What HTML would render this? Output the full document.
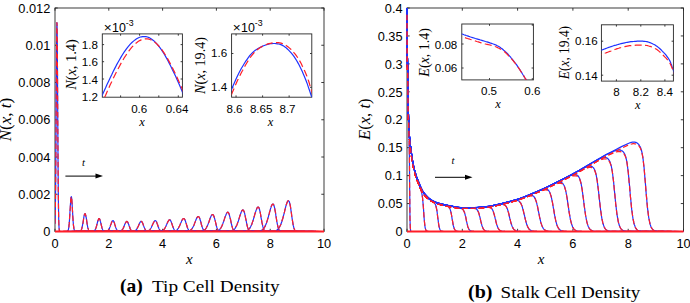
<!DOCTYPE html>
<html><head><meta charset="utf-8"><title>Tip and Stalk Cell Density</title>
<style>html,body{margin:0;padding:0;background:#fff;width:690px;height:303px;overflow:hidden}svg{display:block}</style>
</head><body>
<svg width="690" height="303" viewBox="0 0 690 303">
<defs><clipPath id="cN"><rect x="55.00" y="6.00" width="269.00" height="225.50"/></clipPath></defs>
<rect x="55.00" y="8.00" width="269.00" height="223.50" fill="none" stroke="#262626" stroke-width="0.9"/>
<path d="M55.00 231.50v-2.70M55.00 8.00v2.70M108.80 231.50v-2.70M108.80 8.00v2.70M162.60 231.50v-2.70M162.60 8.00v2.70M216.40 231.50v-2.70M216.40 8.00v2.70M270.20 231.50v-2.70M270.20 8.00v2.70M324.00 231.50v-2.70M324.00 8.00v2.70M55.00 231.50h2.70M324.00 231.50h-2.70M55.00 194.25h2.70M324.00 194.25h-2.70M55.00 157.00h2.70M324.00 157.00h-2.70M55.00 119.75h2.70M324.00 119.75h-2.70M55.00 82.50h2.70M324.00 82.50h-2.70M55.00 45.25h2.70M324.00 45.25h-2.70M55.00 8.00h2.70M324.00 8.00h-2.70" stroke="#262626" stroke-width="0.9" fill="none"/>
<path d="M55.0 223.8L55.0 223.8L55.1 220.8L55.2 216.8L55.3 211.7L55.4 205.3L55.5 197.5L55.6 188.1L55.7 177.0L55.8 164.3L55.9 150.1L56.0 134.6L56.1 118.2L56.2 101.4L56.3 84.7L56.4 68.7L56.5 54.3L56.6 41.9L56.7 32.2L56.8 25.7L56.9 22.7L57.0 23.4L57.1 27.8L57.2 35.5L57.3 46.3L57.4 59.6L57.5 74.7L57.6 91.0L57.7 107.8L57.8 124.5L57.9 140.6L58.0 155.7L58.1 169.3L58.2 181.4L58.3 191.8L58.4 200.7L58.5 208.0L58.6 213.8L58.7 218.5L58.8 222.1L58.9 224.8L59.0 226.8L59.1 228.3L59.2 229.3L59.3 230.1L59.4 230.6L59.5 230.9L59.6 231.1L59.7 231.3L59.8 231.4L59.9 231.4L60.0 231.5L60.1 231.5L60.2 231.5L60.3 231.5L60.4 231.5L60.5 231.5L60.6 231.5L60.7 231.5L60.8 231.5L60.9 231.5L324.0 231.5" stroke="#1e32ff" stroke-width="1.2" fill="none" stroke-linejoin="round" clip-path="url(#cN)"/>
<path d="M55.0 223.8L55.0 223.8L55.1 220.8L55.2 216.8L55.3 211.7L55.4 205.3L55.5 197.5L55.6 188.1L55.7 177.0L55.8 164.3L55.9 150.1L56.0 134.6L56.1 118.2L56.2 101.4L56.3 84.7L56.4 68.7L56.5 54.3L56.6 41.9L56.7 32.2L56.8 25.7L56.9 22.7L57.0 23.4L57.1 27.8L57.2 35.5L57.3 46.3L57.4 59.6L57.5 74.7L57.6 91.0L57.7 107.8L57.8 124.5L57.9 140.6L58.0 155.7L58.1 169.3L58.2 181.4L58.3 191.8L58.4 200.7L58.5 208.0L58.6 213.8L58.7 218.5L58.8 222.1L58.9 224.8L59.0 226.8L59.1 228.3L59.2 229.3L59.3 230.1L59.4 230.6L59.5 230.9L59.6 231.1L59.7 231.3L59.8 231.4L59.9 231.4L60.0 231.5L60.1 231.5L60.2 231.5L60.3 231.5L60.4 231.5L60.5 231.5L60.6 231.5L60.7 231.5L60.8 231.5L60.9 231.5L324.0 231.5" stroke="#ff1e28" stroke-width="1.2" fill="none" stroke-linejoin="round" stroke-dasharray="5.5,2.8" clip-path="url(#cN)"/>
<path d="M55.0 231.5L67.2 231.4L67.4 231.3L67.5 231.2L67.7 231.1L67.8 231.0L68.0 230.7L68.1 230.4L68.3 230.0L68.4 229.4L68.6 228.7L68.7 227.9L68.9 226.8L69.0 225.4L69.2 223.9L69.3 222.1L69.5 220.0L69.6 217.7L69.8 215.3L69.9 212.7L70.1 210.0L70.3 207.3L70.4 204.8L70.6 202.4L70.7 200.4L70.9 198.7L71.0 197.5L71.2 196.8L71.3 196.7L71.5 197.1L71.6 198.1L71.8 199.6L71.9 201.4L72.1 203.7L72.2 206.1L72.4 208.8L72.5 211.4L72.7 214.1L72.8 216.6L73.0 219.0L73.1 221.2L73.3 223.1L73.4 224.8L73.6 226.2L73.8 227.4L73.9 228.4L74.1 229.1L74.2 229.8L74.4 230.2L74.5 230.6L74.7 230.9L324.0 231.5" stroke="#1e32ff" stroke-width="1.2" fill="none" stroke-linejoin="round" clip-path="url(#cN)"/>
<path d="M55.0 231.5L67.2 231.4L67.4 231.3L67.5 231.2L67.7 231.1L67.8 231.0L68.0 230.7L68.1 230.4L68.3 230.0L68.4 229.4L68.6 228.7L68.7 227.9L68.9 226.8L69.0 225.4L69.2 223.9L69.3 222.1L69.5 220.0L69.6 217.7L69.8 215.3L69.9 212.7L70.1 210.0L70.3 207.3L70.4 204.8L70.6 202.4L70.7 200.4L70.9 198.7L71.0 197.5L71.2 196.8L71.3 196.7L71.5 197.1L71.6 198.1L71.8 199.6L71.9 201.4L72.1 203.7L72.2 206.1L72.4 208.8L72.5 211.4L72.7 214.1L72.8 216.6L73.0 219.0L73.1 221.2L73.3 223.1L73.4 224.8L73.6 226.2L73.8 227.4L73.9 228.4L74.1 229.1L74.2 229.8L74.4 230.2L74.5 230.6L74.7 230.9L324.0 231.5" stroke="#ff1e28" stroke-width="1.2" fill="none" stroke-linejoin="round" stroke-dasharray="5.5,2.8" clip-path="url(#cN)"/>
<path d="M55.0 231.5L79.3 231.4L79.5 231.4L79.7 231.4L79.9 231.3L80.1 231.2L80.3 231.1L80.5 230.9L80.7 230.7L81.0 230.5L81.2 230.1L81.4 229.7L81.6 229.1L81.8 228.5L82.0 227.7L82.2 226.8L82.4 225.8L82.6 224.7L82.9 223.5L83.1 222.2L83.3 220.8L83.5 219.5L83.7 218.2L83.9 216.9L84.1 215.8L84.3 214.9L84.6 214.2L84.8 213.8L85.0 213.6L85.2 213.7L85.4 214.1L85.6 214.8L85.8 215.7L86.0 216.8L86.3 218.0L86.5 219.4L86.7 220.8L86.9 222.2L87.1 223.6L87.3 224.9L87.5 226.0L87.7 227.1L87.9 228.0L88.2 228.7L88.4 229.4L88.6 229.9L88.8 230.3L89.0 230.6L89.2 230.9L89.4 231.1L89.6 231.2L324.0 231.5" stroke="#1e32ff" stroke-width="1.2" fill="none" stroke-linejoin="round" clip-path="url(#cN)"/>
<path d="M55.0 231.5L79.3 231.4L79.5 231.4L79.7 231.4L79.9 231.3L80.1 231.2L80.3 231.1L80.5 230.9L80.7 230.7L81.0 230.5L81.2 230.1L81.4 229.7L81.6 229.1L81.8 228.5L82.0 227.7L82.2 226.8L82.4 225.8L82.6 224.7L82.9 223.5L83.1 222.2L83.3 220.8L83.5 219.5L83.7 218.2L83.9 216.9L84.1 215.8L84.3 214.9L84.6 214.2L84.8 213.8L85.0 213.6L85.2 213.7L85.4 214.1L85.6 214.8L85.8 215.7L86.0 216.8L86.3 218.0L86.5 219.4L86.7 220.8L86.9 222.2L87.1 223.6L87.3 224.9L87.5 226.0L87.7 227.1L87.9 228.0L88.2 228.7L88.4 229.4L88.6 229.9L88.8 230.3L89.0 230.6L89.2 230.9L89.4 231.1L89.6 231.2L324.0 231.5" stroke="#ff1e28" stroke-width="1.2" fill="none" stroke-linejoin="round" stroke-dasharray="5.5,2.8" clip-path="url(#cN)"/>
<path d="M55.0 231.5L92.4 231.5L92.7 231.4L92.9 231.4L93.2 231.4L93.4 231.3L93.6 231.2L93.9 231.1L94.1 230.9L94.4 230.7L94.6 230.5L94.9 230.2L95.1 229.8L95.3 229.4L95.6 228.9L95.8 228.2L96.1 227.5L96.3 226.8L96.6 225.9L96.8 225.0L97.0 224.1L97.3 223.1L97.5 222.2L97.8 221.3L98.0 220.5L98.3 219.8L98.5 219.2L98.7 218.8L99.0 218.6L99.2 218.6L99.5 218.8L99.7 219.2L100.0 219.8L100.2 220.6L100.4 221.5L100.7 222.5L100.9 223.5L101.2 224.6L101.4 225.6L101.7 226.5L101.9 227.4L102.1 228.2L102.4 228.9L102.6 229.5L102.9 230.0L103.1 230.3L103.4 230.7L103.6 230.9L103.8 231.1L104.1 231.2L104.3 231.3L324.0 231.5" stroke="#1e32ff" stroke-width="1.2" fill="none" stroke-linejoin="round" clip-path="url(#cN)"/>
<path d="M55.0 231.5L92.4 231.5L92.7 231.4L92.9 231.4L93.2 231.4L93.4 231.3L93.6 231.2L93.9 231.1L94.1 230.9L94.4 230.7L94.6 230.5L94.9 230.2L95.1 229.8L95.3 229.4L95.6 228.9L95.8 228.2L96.1 227.5L96.3 226.8L96.6 225.9L96.8 225.0L97.0 224.1L97.3 223.1L97.5 222.2L97.8 221.3L98.0 220.5L98.3 219.8L98.5 219.2L98.7 218.8L99.0 218.6L99.2 218.6L99.5 218.8L99.7 219.2L100.0 219.8L100.2 220.6L100.4 221.5L100.7 222.5L100.9 223.5L101.2 224.6L101.4 225.6L101.7 226.5L101.9 227.4L102.1 228.2L102.4 228.9L102.6 229.5L102.9 230.0L103.1 230.3L103.4 230.7L103.6 230.9L103.8 231.1L104.1 231.2L104.3 231.3L324.0 231.5" stroke="#ff1e28" stroke-width="1.2" fill="none" stroke-linejoin="round" stroke-dasharray="5.5,2.8" clip-path="url(#cN)"/>
<path d="M55.0 231.5L105.4 231.5L105.7 231.4L106.0 231.4L106.2 231.4L106.5 231.3L106.8 231.2L107.0 231.1L107.3 231.0L107.6 230.9L107.9 230.7L108.1 230.4L108.4 230.1L108.7 229.8L108.9 229.3L109.2 228.8L109.5 228.3L109.7 227.6L110.0 227.0L110.3 226.2L110.5 225.4L110.8 224.6L111.1 223.9L111.3 223.1L111.6 222.4L111.9 221.8L112.1 221.3L112.4 220.9L112.7 220.7L113.0 220.6L113.2 220.7L113.5 221.0L113.8 221.5L114.0 222.1L114.3 222.8L114.6 223.6L114.8 224.5L115.1 225.4L115.4 226.3L115.6 227.2L115.9 227.9L116.2 228.6L116.4 229.2L116.7 229.8L117.0 230.2L117.2 230.5L117.5 230.8L117.8 231.0L118.0 231.2L118.3 231.3L118.6 231.3L324.0 231.5" stroke="#1e32ff" stroke-width="1.2" fill="none" stroke-linejoin="round" clip-path="url(#cN)"/>
<path d="M55.0 231.5L105.4 231.5L105.7 231.4L106.0 231.4L106.2 231.4L106.5 231.3L106.8 231.2L107.0 231.1L107.3 231.0L107.6 230.9L107.9 230.7L108.1 230.4L108.4 230.1L108.7 229.8L108.9 229.3L109.2 228.8L109.5 228.3L109.7 227.6L110.0 227.0L110.3 226.2L110.5 225.4L110.8 224.6L111.1 223.9L111.3 223.1L111.6 222.4L111.9 221.8L112.1 221.3L112.4 220.9L112.7 220.7L113.0 220.6L113.2 220.7L113.5 221.0L113.8 221.5L114.0 222.1L114.3 222.8L114.6 223.6L114.8 224.5L115.1 225.4L115.4 226.3L115.6 227.2L115.9 227.9L116.2 228.6L116.4 229.2L116.7 229.8L117.0 230.2L117.2 230.5L117.5 230.8L117.8 231.0L118.0 231.2L118.3 231.3L118.6 231.3L324.0 231.5" stroke="#ff1e28" stroke-width="1.2" fill="none" stroke-linejoin="round" stroke-dasharray="5.5,2.8" clip-path="url(#cN)"/>
<path d="M55.0 231.5L118.6 231.5L118.9 231.4L119.2 231.4L119.5 231.4L119.8 231.3L120.1 231.3L120.4 231.2L120.7 231.1L120.9 230.9L121.2 230.7L121.5 230.5L121.8 230.2L122.1 229.9L122.4 229.5L122.7 229.1L123.0 228.6L123.3 228.0L123.6 227.4L123.9 226.8L124.1 226.1L124.4 225.3L124.7 224.6L125.0 223.9L125.3 223.3L125.6 222.7L125.9 222.2L126.2 221.8L126.5 221.5L126.8 221.4L127.0 221.5L127.3 221.7L127.6 222.0L127.9 222.6L128.2 223.2L128.5 224.0L128.8 224.8L129.1 225.7L129.4 226.5L129.7 227.3L129.9 228.1L130.2 228.8L130.5 229.4L130.8 229.9L131.1 230.3L131.4 230.6L131.7 230.9L132.0 231.0L132.3 231.2L132.6 231.3L132.9 231.4L324.0 231.5" stroke="#1e32ff" stroke-width="1.2" fill="none" stroke-linejoin="round" clip-path="url(#cN)"/>
<path d="M55.0 231.5L118.6 231.5L118.9 231.4L119.2 231.4L119.5 231.4L119.8 231.3L120.1 231.3L120.4 231.2L120.7 231.1L120.9 230.9L121.2 230.7L121.5 230.5L121.8 230.2L122.1 229.9L122.4 229.5L122.7 229.1L123.0 228.6L123.3 228.0L123.6 227.4L123.9 226.8L124.1 226.1L124.4 225.3L124.7 224.6L125.0 223.9L125.3 223.3L125.6 222.7L125.9 222.2L126.2 221.8L126.5 221.5L126.8 221.4L127.0 221.5L127.3 221.7L127.6 222.0L127.9 222.6L128.2 223.2L128.5 224.0L128.8 224.8L129.1 225.7L129.4 226.5L129.7 227.3L129.9 228.1L130.2 228.8L130.5 229.4L130.8 229.9L131.1 230.3L131.4 230.6L131.7 230.9L132.0 231.0L132.3 231.2L132.6 231.3L132.9 231.4L324.0 231.5" stroke="#ff1e28" stroke-width="1.2" fill="none" stroke-linejoin="round" stroke-dasharray="5.5,2.8" clip-path="url(#cN)"/>
<path d="M55.0 231.5L132.4 231.5L132.7 231.4L133.0 231.4L133.3 231.4L133.6 231.3L133.9 231.2L134.2 231.2L134.5 231.1L134.8 230.9L135.2 230.7L135.5 230.5L135.8 230.3L136.1 230.0L136.4 229.6L136.7 229.2L137.0 228.7L137.3 228.1L137.6 227.5L137.9 226.9L138.3 226.2L138.6 225.5L138.9 224.8L139.2 224.1L139.5 223.5L139.8 222.8L140.1 222.3L140.4 221.9L140.7 221.6L141.1 221.4L141.4 221.4L141.7 221.6L142.0 221.9L142.3 222.4L142.6 223.0L142.9 223.8L143.2 224.6L143.5 225.5L143.8 226.3L144.2 227.2L144.5 228.0L144.8 228.7L145.1 229.3L145.4 229.8L145.7 230.3L146.0 230.6L146.3 230.9L146.6 231.1L146.9 231.2L147.3 231.3L147.6 231.4L324.0 231.5" stroke="#1e32ff" stroke-width="1.2" fill="none" stroke-linejoin="round" clip-path="url(#cN)"/>
<path d="M55.0 231.5L132.4 231.5L132.7 231.4L133.0 231.4L133.3 231.4L133.6 231.3L133.9 231.2L134.2 231.2L134.5 231.1L134.8 230.9L135.2 230.7L135.5 230.5L135.8 230.3L136.1 230.0L136.4 229.6L136.7 229.2L137.0 228.7L137.3 228.1L137.6 227.5L137.9 226.9L138.3 226.2L138.6 225.5L138.9 224.8L139.2 224.1L139.5 223.5L139.8 222.8L140.1 222.3L140.4 221.9L140.7 221.6L141.1 221.4L141.4 221.4L141.7 221.6L142.0 221.9L142.3 222.4L142.6 223.0L142.9 223.8L143.2 224.6L143.5 225.5L143.8 226.3L144.2 227.2L144.5 228.0L144.8 228.7L145.1 229.3L145.4 229.8L145.7 230.3L146.0 230.6L146.3 230.9L146.6 231.1L146.9 231.2L147.3 231.3L147.6 231.4L324.0 231.5" stroke="#ff1e28" stroke-width="1.2" fill="none" stroke-linejoin="round" stroke-dasharray="5.5,2.8" clip-path="url(#cN)"/>
<path d="M55.0 231.5L145.7 231.4L146.1 231.4L146.4 231.4L146.7 231.3L147.0 231.3L147.4 231.2L147.7 231.1L148.0 231.0L148.4 230.9L148.7 230.7L149.0 230.5L149.3 230.2L149.7 229.9L150.0 229.5L150.3 229.0L150.7 228.5L151.0 228.0L151.3 227.4L151.6 226.7L152.0 226.0L152.3 225.2L152.6 224.5L153.0 223.7L153.3 223.0L153.6 222.4L154.0 221.8L154.3 221.3L154.6 220.9L154.9 220.7L155.3 220.6L155.6 220.7L155.9 221.0L156.3 221.5L156.6 222.1L156.9 222.9L157.2 223.8L157.6 224.8L157.9 225.7L158.2 226.7L158.6 227.6L158.9 228.4L159.2 229.1L159.5 229.7L159.9 230.1L160.2 230.5L160.5 230.8L160.9 231.0L161.2 231.2L161.5 231.3L161.8 231.4L324.0 231.5" stroke="#1e32ff" stroke-width="1.2" fill="none" stroke-linejoin="round" clip-path="url(#cN)"/>
<path d="M55.0 231.5L145.7 231.4L146.1 231.4L146.4 231.4L146.7 231.3L147.0 231.3L147.4 231.2L147.7 231.1L148.0 231.0L148.4 230.9L148.7 230.7L149.0 230.5L149.3 230.2L149.7 229.9L150.0 229.5L150.3 229.0L150.7 228.5L151.0 228.0L151.3 227.4L151.6 226.7L152.0 226.0L152.3 225.2L152.6 224.5L153.0 223.7L153.3 223.0L153.6 222.4L154.0 221.8L154.3 221.3L154.6 220.9L154.9 220.7L155.3 220.6L155.6 220.7L155.9 221.0L156.3 221.5L156.6 222.1L156.9 222.9L157.2 223.8L157.6 224.8L157.9 225.7L158.2 226.7L158.6 227.6L158.9 228.4L159.2 229.1L159.5 229.7L159.9 230.1L160.2 230.5L160.5 230.8L160.9 231.0L161.2 231.2L161.5 231.3L161.8 231.4L324.0 231.5" stroke="#ff1e28" stroke-width="1.2" fill="none" stroke-linejoin="round" stroke-dasharray="5.5,2.8" clip-path="url(#cN)"/>
<path d="M55.0 231.5L159.5 231.4L159.9 231.4L160.2 231.4L160.6 231.3L160.9 231.3L161.2 231.2L161.6 231.1L161.9 231.0L162.3 230.8L162.6 230.6L163.0 230.4L163.3 230.1L163.7 229.8L164.0 229.4L164.4 228.9L164.7 228.4L165.1 227.8L165.4 227.2L165.8 226.5L166.1 225.7L166.4 225.0L166.8 224.2L167.1 223.4L167.5 222.6L167.8 221.9L168.2 221.2L168.5 220.7L168.9 220.2L169.2 219.9L169.6 219.8L169.9 219.9L170.3 220.1L170.6 220.6L170.9 221.2L171.3 222.0L171.6 223.0L172.0 224.0L172.3 225.1L172.7 226.2L173.0 227.1L173.4 228.0L173.7 228.8L174.1 229.5L174.4 230.0L174.8 230.5L175.1 230.8L175.5 231.0L175.8 231.2L176.1 231.3L176.5 231.4L324.0 231.5" stroke="#1e32ff" stroke-width="1.2" fill="none" stroke-linejoin="round" clip-path="url(#cN)"/>
<path d="M55.0 231.5L159.5 231.4L159.9 231.4L160.2 231.4L160.6 231.3L160.9 231.3L161.2 231.2L161.6 231.1L161.9 231.0L162.3 230.8L162.6 230.6L163.0 230.4L163.3 230.1L163.7 229.8L164.0 229.4L164.4 228.9L164.7 228.4L165.1 227.8L165.4 227.2L165.8 226.5L166.1 225.7L166.4 225.0L166.8 224.2L167.1 223.4L167.5 222.6L167.8 221.9L168.2 221.2L168.5 220.7L168.9 220.2L169.2 219.9L169.6 219.8L169.9 219.9L170.3 220.1L170.6 220.6L170.9 221.2L171.3 222.0L171.6 223.0L172.0 224.0L172.3 225.1L172.7 226.2L173.0 227.1L173.4 228.0L173.7 228.8L174.1 229.5L174.4 230.0L174.8 230.5L175.1 230.8L175.5 231.0L175.8 231.2L176.1 231.3L176.5 231.4L324.0 231.5" stroke="#ff1e28" stroke-width="1.2" fill="none" stroke-linejoin="round" stroke-dasharray="5.5,2.8" clip-path="url(#cN)"/>
<path d="M55.0 231.5L172.9 231.4L173.3 231.4L173.7 231.4L174.0 231.3L174.4 231.2L174.7 231.2L175.1 231.0L175.5 230.9L175.8 230.7L176.2 230.5L176.6 230.3L176.9 230.0L177.3 229.6L177.6 229.2L178.0 228.7L178.4 228.1L178.7 227.5L179.1 226.8L179.5 226.1L179.8 225.3L180.2 224.4L180.5 223.6L180.9 222.7L181.3 221.9L181.6 221.0L182.0 220.3L182.4 219.6L182.7 219.1L183.1 218.7L183.5 218.5L183.8 218.5L184.2 218.7L184.5 219.2L184.9 219.8L185.3 220.7L185.6 221.8L186.0 222.9L186.4 224.1L186.7 225.3L187.1 226.5L187.4 227.5L187.8 228.5L188.2 229.2L188.5 229.9L188.9 230.3L189.3 230.7L189.6 231.0L190.0 231.2L190.3 231.3L190.7 231.4L324.0 231.5" stroke="#1e32ff" stroke-width="1.2" fill="none" stroke-linejoin="round" clip-path="url(#cN)"/>
<path d="M55.0 231.5L172.9 231.4L173.3 231.4L173.7 231.4L174.0 231.3L174.4 231.2L174.7 231.2L175.1 231.0L175.5 230.9L175.8 230.7L176.2 230.5L176.6 230.3L176.9 230.0L177.3 229.6L177.6 229.2L178.0 228.7L178.4 228.1L178.7 227.5L179.1 226.8L179.5 226.1L179.8 225.3L180.2 224.4L180.5 223.6L180.9 222.7L181.3 221.9L181.6 221.0L182.0 220.3L182.4 219.6L182.7 219.1L183.1 218.7L183.5 218.5L183.8 218.5L184.2 218.7L184.5 219.2L184.9 219.8L185.3 220.7L185.6 221.8L186.0 222.9L186.4 224.1L186.7 225.3L187.1 226.5L187.4 227.5L187.8 228.5L188.2 229.2L188.5 229.9L188.9 230.3L189.3 230.7L189.6 231.0L190.0 231.2L190.3 231.3L190.7 231.4L324.0 231.5" stroke="#ff1e28" stroke-width="1.2" fill="none" stroke-linejoin="round" stroke-dasharray="5.5,2.8" clip-path="url(#cN)"/>
<path d="M55.0 231.5L187.0 231.4L187.3 231.4L187.7 231.3L188.1 231.3L188.5 231.2L188.8 231.1L189.2 231.0L189.6 230.8L190.0 230.6L190.4 230.4L190.7 230.1L191.1 229.7L191.5 229.3L191.9 228.9L192.3 228.3L192.6 227.7L193.0 227.0L193.4 226.2L193.8 225.4L194.2 224.5L194.5 223.6L194.9 222.6L195.3 221.6L195.7 220.6L196.0 219.7L196.4 218.8L196.8 218.0L197.2 217.4L197.6 216.9L197.9 216.6L198.3 216.5L198.7 216.7L199.1 217.1L199.5 217.8L199.8 218.8L200.2 220.0L200.6 221.3L201.0 222.7L201.3 224.2L201.7 225.5L202.1 226.8L202.5 227.9L202.9 228.8L203.2 229.6L203.6 230.2L204.0 230.6L204.4 230.9L204.8 231.1L205.1 231.3L205.5 231.4L324.0 231.5" stroke="#1e32ff" stroke-width="1.2" fill="none" stroke-linejoin="round" clip-path="url(#cN)"/>
<path d="M55.0 231.5L187.0 231.4L187.3 231.4L187.7 231.3L188.1 231.3L188.5 231.2L188.8 231.1L189.2 231.0L189.6 230.8L190.0 230.6L190.4 230.4L190.7 230.1L191.1 229.7L191.5 229.3L191.9 228.9L192.3 228.3L192.6 227.7L193.0 227.0L193.4 226.2L193.8 225.4L194.2 224.5L194.5 223.6L194.9 222.6L195.3 221.6L195.7 220.6L196.0 219.7L196.4 218.8L196.8 218.0L197.2 217.4L197.6 216.9L197.9 216.6L198.3 216.5L198.7 216.7L199.1 217.1L199.5 217.8L199.8 218.8L200.2 220.0L200.6 221.3L201.0 222.7L201.3 224.2L201.7 225.5L202.1 226.8L202.5 227.9L202.9 228.8L203.2 229.6L203.6 230.2L204.0 230.6L204.4 230.9L204.8 231.1L205.1 231.3L205.5 231.4L324.0 231.5" stroke="#ff1e28" stroke-width="1.2" fill="none" stroke-linejoin="round" stroke-dasharray="5.5,2.8" clip-path="url(#cN)"/>
<path d="M55.0 231.5L200.7 231.4L201.1 231.3L201.5 231.3L201.9 231.2L202.3 231.1L202.7 231.0L203.1 230.9L203.5 230.7L203.8 230.5L204.2 230.2L204.6 229.9L205.0 229.5L205.4 229.1L205.8 228.6L206.2 228.0L206.6 227.3L207.0 226.5L207.4 225.7L207.8 224.8L208.2 223.8L208.6 222.7L209.0 221.7L209.4 220.5L209.8 219.4L210.1 218.4L210.5 217.4L210.9 216.5L211.3 215.7L211.7 215.1L212.1 214.7L212.5 214.5L212.9 214.6L213.3 215.0L213.7 215.7L214.1 216.8L214.5 218.1L214.9 219.6L215.3 221.2L215.7 222.9L216.1 224.5L216.4 226.0L216.8 227.3L217.2 228.4L217.6 229.3L218.0 230.0L218.4 230.5L218.8 230.8L219.2 231.1L219.6 231.3L220.0 231.4L324.0 231.5" stroke="#1e32ff" stroke-width="1.2" fill="none" stroke-linejoin="round" clip-path="url(#cN)"/>
<path d="M55.0 231.5L200.7 231.4L201.1 231.3L201.5 231.3L201.9 231.2L202.3 231.1L202.7 231.0L203.1 230.9L203.5 230.7L203.8 230.5L204.2 230.2L204.6 229.9L205.0 229.5L205.4 229.1L205.8 228.6L206.2 228.0L206.6 227.3L207.0 226.5L207.4 225.7L207.8 224.8L208.2 223.8L208.6 222.7L209.0 221.7L209.4 220.5L209.8 219.4L210.1 218.4L210.5 217.4L210.9 216.5L211.3 215.7L211.7 215.1L212.1 214.7L212.5 214.5L212.9 214.6L213.3 215.0L213.7 215.7L214.1 216.8L214.5 218.1L214.9 219.6L215.3 221.2L215.7 222.9L216.1 224.5L216.4 226.0L216.8 227.3L217.2 228.4L217.6 229.3L218.0 230.0L218.4 230.5L218.8 230.8L219.2 231.1L219.6 231.3L220.0 231.4L324.0 231.5" stroke="#ff1e28" stroke-width="1.2" fill="none" stroke-linejoin="round" stroke-dasharray="5.5,2.8" clip-path="url(#cN)"/>
<path d="M55.0 231.5L215.4 231.4L215.8 231.3L216.2 231.2L216.6 231.2L217.0 231.1L217.4 230.9L217.8 230.8L218.2 230.6L218.6 230.3L219.0 230.0L219.4 229.7L219.8 229.3L220.2 228.8L220.7 228.2L221.1 227.6L221.5 226.8L221.9 226.0L222.3 225.0L222.7 224.0L223.1 222.9L223.5 221.8L223.9 220.6L224.3 219.4L224.7 218.1L225.1 216.9L225.6 215.8L226.0 214.7L226.4 213.8L226.8 213.0L227.2 212.5L227.6 212.2L228.0 212.3L228.4 212.6L228.8 213.3L229.2 214.4L229.6 215.9L230.0 217.6L230.5 219.4L230.9 221.4L231.3 223.3L231.7 225.0L232.1 226.6L232.5 227.9L232.9 228.9L233.3 229.8L233.7 230.4L234.1 230.8L234.5 231.1L234.9 231.2L235.4 231.4L324.0 231.5" stroke="#1e32ff" stroke-width="1.2" fill="none" stroke-linejoin="round" clip-path="url(#cN)"/>
<path d="M55.0 231.5L215.4 231.4L215.8 231.3L216.2 231.2L216.6 231.2L217.0 231.1L217.4 230.9L217.8 230.8L218.2 230.6L218.6 230.3L219.0 230.0L219.4 229.7L219.8 229.3L220.2 228.8L220.7 228.2L221.1 227.6L221.5 226.8L221.9 226.0L222.3 225.0L222.7 224.0L223.1 222.9L223.5 221.8L223.9 220.6L224.3 219.4L224.7 218.1L225.1 216.9L225.6 215.8L226.0 214.7L226.4 213.8L226.8 213.0L227.2 212.5L227.6 212.2L228.0 212.3L228.4 212.6L228.8 213.3L229.2 214.4L229.6 215.9L230.0 217.6L230.5 219.4L230.9 221.4L231.3 223.3L231.7 225.0L232.1 226.6L232.5 227.9L232.9 228.9L233.3 229.8L233.7 230.4L234.1 230.8L234.5 231.1L234.9 231.2L235.4 231.4L324.0 231.5" stroke="#ff1e28" stroke-width="1.2" fill="none" stroke-linejoin="round" stroke-dasharray="5.5,2.8" clip-path="url(#cN)"/>
<path d="M55.0 231.5L229.9 231.3L230.3 231.3L230.8 231.2L231.2 231.1L231.6 231.0L232.0 230.9L232.4 230.7L232.9 230.5L233.3 230.2L233.7 229.9L234.1 229.5L234.6 229.0L235.0 228.5L235.4 227.9L235.8 227.1L236.2 226.3L236.7 225.4L237.1 224.4L237.5 223.3L237.9 222.1L238.4 220.9L238.8 219.6L239.2 218.2L239.6 216.9L240.0 215.5L240.5 214.2L240.9 213.0L241.3 211.9L241.7 211.0L242.2 210.4L242.6 210.0L243.0 209.9L243.4 210.2L243.8 210.9L244.3 212.0L244.7 213.6L245.1 215.5L245.5 217.6L246.0 219.8L246.4 222.0L246.8 224.0L247.2 225.8L247.6 227.4L248.1 228.6L248.5 229.5L248.9 230.2L249.3 230.7L249.8 231.0L250.2 231.2L250.6 231.4L324.0 231.5" stroke="#1e32ff" stroke-width="1.2" fill="none" stroke-linejoin="round" clip-path="url(#cN)"/>
<path d="M55.0 231.5L229.9 231.3L230.3 231.3L230.8 231.2L231.2 231.1L231.6 231.0L232.0 230.9L232.4 230.7L232.9 230.5L233.3 230.2L233.7 229.9L234.1 229.5L234.6 229.0L235.0 228.5L235.4 227.9L235.8 227.1L236.2 226.3L236.7 225.4L237.1 224.4L237.5 223.3L237.9 222.1L238.4 220.9L238.8 219.6L239.2 218.2L239.6 216.9L240.0 215.5L240.5 214.2L240.9 213.0L241.3 211.9L241.7 211.0L242.2 210.4L242.6 210.0L243.0 209.9L243.4 210.2L243.8 210.9L244.3 212.0L244.7 213.6L245.1 215.5L245.5 217.6L246.0 219.8L246.4 222.0L246.8 224.0L247.2 225.8L247.6 227.4L248.1 228.6L248.5 229.5L248.9 230.2L249.3 230.7L249.8 231.0L250.2 231.2L250.6 231.4L324.0 231.5" stroke="#ff1e28" stroke-width="1.2" fill="none" stroke-linejoin="round" stroke-dasharray="5.5,2.8" clip-path="url(#cN)"/>
<path d="M55.0 231.5L244.6 231.3L245.0 231.2L245.5 231.1L245.9 231.0L246.3 230.9L246.8 230.7L247.2 230.5L247.6 230.3L248.1 230.0L248.5 229.6L248.9 229.2L249.4 228.7L249.8 228.1L250.3 227.4L250.7 226.6L251.1 225.7L251.6 224.7L252.0 223.6L252.4 222.4L252.9 221.1L253.3 219.7L253.7 218.3L254.2 216.8L254.6 215.2L255.0 213.7L255.5 212.3L255.9 210.9L256.4 209.6L256.8 208.5L257.2 207.7L257.7 207.2L258.1 207.0L258.5 207.2L259.0 207.9L259.4 209.0L259.8 210.7L260.3 212.8L260.7 215.2L261.1 217.8L261.6 220.3L262.0 222.7L262.5 224.9L262.9 226.7L263.3 228.2L263.8 229.3L264.2 230.1L264.6 230.6L265.1 231.0L265.5 231.2L265.9 231.3L324.0 231.5" stroke="#1e32ff" stroke-width="1.2" fill="none" stroke-linejoin="round" clip-path="url(#cN)"/>
<path d="M55.0 231.5L244.6 231.3L245.0 231.2L245.5 231.1L245.9 231.0L246.3 230.9L246.8 230.7L247.2 230.5L247.6 230.3L248.1 230.0L248.5 229.6L248.9 229.2L249.4 228.7L249.8 228.1L250.3 227.4L250.7 226.6L251.1 225.7L251.6 224.7L252.0 223.6L252.4 222.4L252.9 221.1L253.3 219.7L253.7 218.3L254.2 216.8L254.6 215.2L255.0 213.7L255.5 212.3L255.9 210.9L256.4 209.6L256.8 208.5L257.2 207.7L257.7 207.2L258.1 207.0L258.5 207.2L259.0 207.9L259.4 209.0L259.8 210.7L260.3 212.8L260.7 215.2L261.1 217.8L261.6 220.3L262.0 222.7L262.5 224.9L262.9 226.7L263.3 228.2L263.8 229.3L264.2 230.1L264.6 230.6L265.1 231.0L265.5 231.2L265.9 231.3L324.0 231.5" stroke="#ff1e28" stroke-width="1.2" fill="none" stroke-linejoin="round" stroke-dasharray="5.5,2.8" clip-path="url(#cN)"/>
<path d="M55.0 231.5L258.9 231.2L259.3 231.2L259.8 231.1L260.2 231.0L260.7 230.8L261.1 230.6L261.6 230.4L262.0 230.1L262.5 229.8L262.9 229.4L263.4 228.9L263.8 228.4L264.3 227.7L264.7 227.0L265.2 226.1L265.6 225.1L266.1 224.1L266.5 222.9L266.9 221.6L267.4 220.1L267.8 218.6L268.3 217.0L268.7 215.4L269.2 213.7L269.6 212.0L270.1 210.4L270.5 208.8L271.0 207.4L271.4 206.1L271.9 205.1L272.3 204.4L272.8 204.1L273.2 204.2L273.7 204.8L274.1 206.0L274.6 207.8L275.0 210.1L275.5 212.7L275.9 215.7L276.4 218.6L276.8 221.4L277.3 223.9L277.7 226.0L278.2 227.7L278.6 229.0L279.1 229.9L279.5 230.5L280.0 231.0L280.4 231.2L280.9 231.3L324.0 231.5" stroke="#1e32ff" stroke-width="1.2" fill="none" stroke-linejoin="round" clip-path="url(#cN)"/>
<path d="M55.0 231.5L258.9 231.2L259.3 231.2L259.8 231.1L260.2 231.0L260.7 230.8L261.1 230.6L261.6 230.4L262.0 230.1L262.5 229.8L262.9 229.4L263.4 228.9L263.8 228.4L264.3 227.7L264.7 227.0L265.2 226.1L265.6 225.1L266.1 224.1L266.5 222.9L266.9 221.6L267.4 220.1L267.8 218.6L268.3 217.0L268.7 215.4L269.2 213.7L269.6 212.0L270.1 210.4L270.5 208.8L271.0 207.4L271.4 206.1L271.9 205.1L272.3 204.4L272.8 204.1L273.2 204.2L273.7 204.8L274.1 206.0L274.6 207.8L275.0 210.1L275.5 212.7L275.9 215.7L276.4 218.6L276.8 221.4L277.3 223.9L277.7 226.0L278.2 227.7L278.6 229.0L279.1 229.9L279.5 230.5L280.0 231.0L280.4 231.2L280.9 231.3L324.0 231.5" stroke="#ff1e28" stroke-width="1.2" fill="none" stroke-linejoin="round" stroke-dasharray="5.5,2.8" clip-path="url(#cN)"/>
<path d="M55.0 231.5L273.8 231.2L274.3 231.1L274.8 231.0L275.2 230.9L275.7 230.7L276.1 230.5L276.6 230.2L277.1 229.9L277.5 229.5L278.0 229.1L278.4 228.6L278.9 228.0L279.4 227.3L279.8 226.4L280.3 225.5L280.8 224.5L281.2 223.3L281.7 222.0L282.1 220.5L282.6 219.0L283.1 217.3L283.5 215.6L284.0 213.8L284.5 211.9L284.9 210.0L285.4 208.2L285.8 206.4L286.3 204.8L286.8 203.3L287.2 202.1L287.7 201.2L288.2 200.7L288.6 200.8L289.1 201.3L289.5 202.5L290.0 204.3L290.5 206.8L290.9 209.8L291.4 213.1L291.8 216.5L292.3 219.7L292.8 222.7L293.2 225.2L293.7 227.2L294.2 228.7L294.6 229.7L295.1 230.5L295.5 230.9L296.0 231.2L296.5 231.3L324.0 231.5" stroke="#1e32ff" stroke-width="1.2" fill="none" stroke-linejoin="round" clip-path="url(#cN)"/>
<path d="M55.0 231.5L273.8 231.2L274.3 231.1L274.8 231.0L275.2 230.9L275.7 230.7L276.1 230.5L276.6 230.2L277.1 229.9L277.5 229.5L278.0 229.1L278.4 228.6L278.9 228.0L279.4 227.3L279.8 226.4L280.3 225.5L280.8 224.5L281.2 223.3L281.7 222.0L282.1 220.5L282.6 219.0L283.1 217.3L283.5 215.6L284.0 213.8L284.5 211.9L284.9 210.0L285.4 208.2L285.8 206.4L286.3 204.8L286.8 203.3L287.2 202.1L287.7 201.2L288.2 200.7L288.6 200.8L289.1 201.3L289.5 202.5L290.0 204.3L290.5 206.8L290.9 209.8L291.4 213.1L291.8 216.5L292.3 219.7L292.8 222.7L293.2 225.2L293.7 227.2L294.2 228.7L294.6 229.7L295.1 230.5L295.5 230.9L296.0 231.2L296.5 231.3L324.0 231.5" stroke="#ff1e28" stroke-width="1.2" fill="none" stroke-linejoin="round" stroke-dasharray="5.5,2.8" clip-path="url(#cN)"/>
<path d="M55.00 231.50H324.00" stroke="#ff1e28" stroke-width="1.8"/>
<text x="55.00" y="248.10" text-anchor="middle" style="font-family:&quot;Liberation Sans&quot;, sans-serif;font-size:12.80px;" fill="#000" >0</text>
<text x="108.80" y="248.10" text-anchor="middle" style="font-family:&quot;Liberation Sans&quot;, sans-serif;font-size:12.80px;" fill="#000" >2</text>
<text x="162.60" y="248.10" text-anchor="middle" style="font-family:&quot;Liberation Sans&quot;, sans-serif;font-size:12.80px;" fill="#000" >4</text>
<text x="216.40" y="248.10" text-anchor="middle" style="font-family:&quot;Liberation Sans&quot;, sans-serif;font-size:12.80px;" fill="#000" >6</text>
<text x="270.20" y="248.10" text-anchor="middle" style="font-family:&quot;Liberation Sans&quot;, sans-serif;font-size:12.80px;" fill="#000" >8</text>
<text x="324.00" y="248.10" text-anchor="middle" style="font-family:&quot;Liberation Sans&quot;, sans-serif;font-size:12.80px;" fill="#000" >10</text>
<text x="50.30" y="236.20" text-anchor="end" style="font-family:&quot;Liberation Sans&quot;, sans-serif;font-size:12.80px;" fill="#000" >0</text>
<text x="50.30" y="198.95" text-anchor="end" style="font-family:&quot;Liberation Sans&quot;, sans-serif;font-size:12.80px;" fill="#000" >0.002</text>
<text x="50.30" y="161.70" text-anchor="end" style="font-family:&quot;Liberation Sans&quot;, sans-serif;font-size:12.80px;" fill="#000" >0.004</text>
<text x="50.30" y="124.45" text-anchor="end" style="font-family:&quot;Liberation Sans&quot;, sans-serif;font-size:12.80px;" fill="#000" >0.006</text>
<text x="50.30" y="87.20" text-anchor="end" style="font-family:&quot;Liberation Sans&quot;, sans-serif;font-size:12.80px;" fill="#000" >0.008</text>
<text x="50.30" y="49.95" text-anchor="end" style="font-family:&quot;Liberation Sans&quot;, sans-serif;font-size:12.80px;" fill="#000" >0.01</text>
<text x="50.30" y="12.70" text-anchor="end" style="font-family:&quot;Liberation Sans&quot;, sans-serif;font-size:12.80px;" fill="#000" >0.012</text>
<path d="M65.40 176.10H98.00" stroke="#000" stroke-width="1"/>
<path d="M103.00 176.10L95.50 173.60L95.50 178.60Z" fill="#000"/>
<text x="83.50" y="166.00" text-anchor="middle" style="font-family:&quot;Liberation Serif&quot;, serif;font-size:10.80px;font-style:italic;" fill="#000" >t</text>
<text x="189.40" y="263.60" text-anchor="middle" style="font-family:&quot;Liberation Serif&quot;, serif;font-size:15.00px;font-style:italic;" fill="#000" >x</text>
<text transform="translate(11.40 119.50) rotate(-90)" text-anchor="middle" style="font-family:&quot;Liberation Serif&quot;, serif;font-size:16.50px" fill="#000" textLength="43.5" lengthAdjust="spacingAndGlyphs"><tspan font-style="italic">N</tspan>(<tspan font-style="italic">x</tspan>, <tspan font-style="italic">t</tspan>)</text>
<text x="120" y="292.2" style="font-family:&quot;Liberation Serif&quot;, serif;font-size:19.5px;font-weight:bold" fill="#000" textLength="22.8" lengthAdjust="spacingAndGlyphs">(a)</text>
<text x="152" y="292.3" style="font-family:&quot;Liberation Serif&quot;, serif;font-size:16px" fill="#000" textLength="127.6" lengthAdjust="spacingAndGlyphs">Tip Cell Density</text>
<defs><clipPath id="cN1"><rect x="102.30" y="33.90" width="80.10" height="63.30"/></clipPath></defs>
<rect x="102.30" y="33.90" width="80.10" height="63.30" fill="#fff"/>
<rect x="102.30" y="33.90" width="80.10" height="63.30" fill="none" stroke="#262626" stroke-width="0.9"/>
<path d="M120.60 97.20v-1.80M120.60 33.90v1.80M139.60 97.20v-1.80M139.60 33.90v1.80M158.80 97.20v-1.80M158.80 33.90v1.80M178.30 97.20v-1.80M178.30 33.90v1.80M102.30 44.60h1.80M182.40 44.60h-1.80M102.30 61.70h1.80M182.40 61.70h-1.80M102.30 79.00h1.80M182.40 79.00h-1.80" stroke="#262626" stroke-width="0.9" fill="none"/>
<path d="M96.1 108.8L97.7 105.3L99.2 101.8L100.8 98.3L102.3 94.9L103.9 91.4L105.5 88.0L107.0 84.6L108.6 81.2L110.1 77.9L111.7 74.7L113.2 71.5L114.8 68.4L116.3 65.4L117.9 62.5L119.5 59.7L121.0 57.1L122.6 54.5L124.1 52.1L125.7 49.9L127.2 47.8L128.8 45.9L130.3 44.1L131.9 42.5L133.5 41.1L135.0 39.9L136.6 38.8L138.1 38.0L139.7 37.3L141.2 36.8L142.8 36.6L144.3 36.5L145.9 36.7L147.5 37.0L149.0 37.6L150.6 38.5L152.1 39.5L153.7 40.7L155.2 42.2L156.8 43.8L158.3 45.6L159.9 47.7L161.5 49.9L163.0 52.2L164.6 54.7L166.1 57.4L167.7 60.3L169.2 63.2L170.8 66.3L172.3 69.5L173.9 72.7L175.5 76.1L177.0 79.5L178.6 83.1L180.1 86.6L181.7 90.2L183.2 93.9L184.8 97.5L186.4 101.2L187.9 104.9" stroke="#1e32ff" stroke-width="1.2" fill="none" stroke-linejoin="round" clip-path="url(#cN1)"/>
<path d="M96.1 116.2L97.7 112.7L99.2 109.3L100.8 105.8L102.3 102.3L103.9 98.8L105.5 95.4L107.0 91.9L108.6 88.5L110.1 85.1L111.7 81.8L113.2 78.5L114.8 75.3L116.3 72.2L117.9 69.2L119.5 66.2L121.0 63.4L122.6 60.6L124.1 58.0L125.7 55.6L127.2 53.2L128.8 51.1L130.3 49.1L131.9 47.2L133.5 45.5L135.0 44.0L136.6 42.7L138.1 41.6L139.7 40.6L141.2 39.9L142.8 39.3L144.3 39.0L145.9 38.8L147.5 38.9L149.0 39.2L150.6 39.7L152.1 40.4L153.7 41.3L155.2 42.5L156.8 43.9L158.3 45.5L159.9 47.2L161.5 49.2L163.0 51.3L164.6 53.7L166.1 56.2L167.7 58.8L169.2 61.6L170.8 64.5L172.3 67.6L173.9 70.7L175.5 74.0L177.0 77.3L178.6 80.8L180.1 84.3L181.7 87.8L183.2 91.4L184.8 95.1L186.4 98.7L187.9 102.4" stroke="#ff1e28" stroke-width="1.2" fill="none" stroke-linejoin="round" stroke-dasharray="7,3.4" clip-path="url(#cN1)"/>
<text x="139.20" y="112.60" text-anchor="middle" style="font-family:&quot;Liberation Sans&quot;, sans-serif;font-size:11.60px;" fill="#000" >0.6</text>
<text x="177.10" y="112.60" text-anchor="middle" style="font-family:&quot;Liberation Sans&quot;, sans-serif;font-size:11.60px;" fill="#000" >0.64</text>
<text x="97.90" y="100.90" text-anchor="end" style="font-family:&quot;Liberation Sans&quot;, sans-serif;font-size:11.60px;" fill="#000" >1.2</text>
<text x="97.90" y="83.50" text-anchor="end" style="font-family:&quot;Liberation Sans&quot;, sans-serif;font-size:11.60px;" fill="#000" >1.4</text>
<text x="97.90" y="66.20" text-anchor="end" style="font-family:&quot;Liberation Sans&quot;, sans-serif;font-size:11.60px;" fill="#000" >1.6</text>
<text x="97.90" y="48.80" text-anchor="end" style="font-family:&quot;Liberation Sans&quot;, sans-serif;font-size:11.60px;" fill="#000" >1.8</text>
<text x="103.70" y="31.70" style="font-family:&quot;Liberation Sans&quot;, sans-serif;font-size:13.6px" fill="#000">&#215;</text>
<text x="112.00" y="31.60" style="font-family:&quot;Liberation Sans&quot;, sans-serif;font-size:12.4px" fill="#000">10</text>
<text x="125.80" y="25.60" style="font-family:&quot;Liberation Sans&quot;, sans-serif;font-size:8.8px" fill="#000">-3</text>
<text x="142.00" y="125.80" text-anchor="middle" style="font-family:&quot;Liberation Serif&quot;, serif;font-size:12.50px;font-style:italic;" fill="#000" >x</text>
<text transform="translate(75.60 64.60) rotate(-90)" text-anchor="middle" style="font-family:&quot;Liberation Serif&quot;, serif;font-size:14.50px" fill="#000" textLength="50.5" lengthAdjust="spacingAndGlyphs"><tspan font-style="italic">N</tspan>(<tspan font-style="italic">x</tspan>, 1.4)</text>
<defs><clipPath id="cN2"><rect x="231.60" y="33.90" width="80.20" height="63.30"/></clipPath></defs>
<rect x="231.60" y="33.90" width="80.20" height="63.30" fill="#fff"/>
<rect x="231.60" y="33.90" width="80.20" height="63.30" fill="none" stroke="#262626" stroke-width="0.9"/>
<path d="M236.06 97.20v-1.80M236.06 33.90v1.80M262.60 97.20v-1.80M262.60 33.90v1.80M289.14 97.20v-1.80M289.14 33.90v1.80M231.60 87.30h1.80M311.80 87.30h-1.80M231.60 53.50h1.80M311.80 53.50h-1.80" stroke="#262626" stroke-width="0.9" fill="none"/>
<path d="M227.5 99.5L227.8 98.8L228.2 97.8L228.6 96.7L229.1 95.5L229.6 94.0L230.3 92.5L230.9 90.9L231.7 89.1L232.5 87.2L233.4 85.0L234.4 82.7L235.5 80.3L236.6 77.8L237.7 75.4L238.9 73.0L240.1 70.7L241.3 68.5L242.7 66.2L244.0 64.0L245.4 61.7L246.9 59.6L248.3 57.6L249.7 55.7L251.1 54.1L252.5 52.7L253.9 51.4L255.3 50.3L256.6 49.4L258.0 48.5L259.4 47.8L260.8 47.1L262.2 46.4L263.6 45.8L265.0 45.2L266.4 44.7L267.8 44.3L269.1 44.0L270.5 43.7L271.9 43.6L273.3 43.5L274.7 43.5L276.1 43.6L277.4 43.8L278.8 44.0L280.2 44.4L281.5 44.9L282.9 45.6L284.3 46.4L285.7 47.4L287.1 48.7L288.6 50.1L290.0 51.6L291.4 53.2L292.8 54.9L294.1 56.7L295.4 58.6L296.6 60.5L297.8 62.6L299.0 64.8L300.1 67.0L301.2 69.3L302.3 71.6L303.3 74.0L304.3 76.3L305.3 78.7L306.3 81.3L307.3 83.9L308.2 86.6L309.1 89.2L309.9 91.6L310.6 93.8L311.3 95.7L311.9 97.3L312.3 98.8L312.7 100.0L313.1 101.1L313.4 102.0L313.6 102.8L313.8 103.4L314.0 104.0" stroke="#1e32ff" stroke-width="1.2" fill="none" stroke-linejoin="round" clip-path="url(#cN2)"/>
<path d="M227.5 104.5L227.8 103.7L228.2 102.8L228.6 101.7L229.1 100.4L229.6 99.0L230.3 97.5L230.9 95.8L231.7 94.0L232.5 92.0L233.4 89.9L234.4 87.6L235.5 85.1L236.6 82.6L237.7 80.1L238.9 77.6L240.1 75.2L241.3 72.8L242.7 70.3L244.0 67.7L245.4 65.2L246.9 62.7L248.3 60.4L249.7 58.2L251.1 56.3L252.5 54.6L253.8 53.0L255.2 51.7L256.5 50.4L257.9 49.3L259.3 48.2L260.7 47.3L262.2 46.4L263.8 45.6L265.4 44.9L267.1 44.2L268.9 43.7L270.6 43.3L272.3 42.9L273.9 42.7L275.5 42.6L277.0 42.6L278.4 42.7L279.8 42.9L281.1 43.2L282.5 43.6L283.8 44.2L285.1 44.8L286.5 45.7L287.9 46.7L289.3 47.9L290.8 49.2L292.2 50.7L293.6 52.3L295.0 53.9L296.3 55.7L297.6 57.5L298.8 59.4L300.1 61.6L301.3 63.8L302.4 66.2L303.6 68.5L304.6 70.8L305.6 73.1L306.5 75.2L307.3 77.2L308.0 79.3L308.7 81.3L309.3 83.2L309.8 85.1L310.3 86.8L310.8 88.5L311.3 90.0L311.8 91.4L312.2 92.7L312.6 93.8L313.0 94.9L313.3 95.9L313.6 96.7L313.8 97.4L314.0 98.0" stroke="#ff1e28" stroke-width="1.2" fill="none" stroke-linejoin="round" stroke-dasharray="7,3.4" clip-path="url(#cN2)"/>
<text x="234.50" y="112.60" text-anchor="middle" style="font-family:&quot;Liberation Sans&quot;, sans-serif;font-size:11.60px;" fill="#000" >8.6</text>
<text x="261.20" y="112.60" text-anchor="middle" style="font-family:&quot;Liberation Sans&quot;, sans-serif;font-size:11.60px;" fill="#000" >8.65</text>
<text x="287.50" y="112.60" text-anchor="middle" style="font-family:&quot;Liberation Sans&quot;, sans-serif;font-size:11.60px;" fill="#000" >8.7</text>
<text x="227.20" y="91.20" text-anchor="end" style="font-family:&quot;Liberation Sans&quot;, sans-serif;font-size:11.60px;" fill="#000" >1.4</text>
<text x="227.20" y="57.40" text-anchor="end" style="font-family:&quot;Liberation Sans&quot;, sans-serif;font-size:11.60px;" fill="#000" >1.6</text>
<text x="232.70" y="31.70" style="font-family:&quot;Liberation Sans&quot;, sans-serif;font-size:13.6px" fill="#000">&#215;</text>
<text x="241.00" y="31.60" style="font-family:&quot;Liberation Sans&quot;, sans-serif;font-size:12.4px" fill="#000">10</text>
<text x="254.80" y="25.60" style="font-family:&quot;Liberation Sans&quot;, sans-serif;font-size:8.8px" fill="#000">-3</text>
<text x="270.60" y="125.80" text-anchor="middle" style="font-family:&quot;Liberation Serif&quot;, serif;font-size:12.50px;font-style:italic;" fill="#000" >x</text>
<text transform="translate(205.20 65.50) rotate(-90)" text-anchor="middle" style="font-family:&quot;Liberation Serif&quot;, serif;font-size:14.50px" fill="#000" textLength="57.0" lengthAdjust="spacingAndGlyphs"><tspan font-style="italic">N</tspan>(<tspan font-style="italic">x</tspan>, 19.4)</text>
<defs><clipPath id="cE"><rect x="406.00" y="8.00" width="277.50" height="225.50"/></clipPath></defs>
<rect x="407.00" y="8.00" width="276.50" height="223.50" fill="none" stroke="#262626" stroke-width="0.9"/>
<path d="M407.00 231.50v-2.70M407.00 8.00v2.70M462.30 231.50v-2.70M462.30 8.00v2.70M517.60 231.50v-2.70M517.60 8.00v2.70M572.90 231.50v-2.70M572.90 8.00v2.70M628.20 231.50v-2.70M628.20 8.00v2.70M683.50 231.50v-2.70M683.50 8.00v2.70M407.00 231.50h2.70M683.50 231.50h-2.70M407.00 203.56h2.70M683.50 203.56h-2.70M407.00 175.62h2.70M683.50 175.62h-2.70M407.00 147.69h2.70M683.50 147.69h-2.70M407.00 119.75h2.70M683.50 119.75h-2.70M407.00 91.81h2.70M683.50 91.81h-2.70M407.00 63.88h2.70M683.50 63.88h-2.70M407.00 35.94h2.70M683.50 35.94h-2.70M407.00 8.00h2.70M683.50 8.00h-2.70" stroke="#262626" stroke-width="0.9" fill="none"/>
<path d="M407.0 8.0L407.1 26.0L407.3 41.7L407.4 54.5L407.6 65.4L407.7 75.1L407.8 84.3L408.0 93.2L408.1 101.3L408.2 108.0L408.4 113.3L408.5 118.2L408.7 122.8L408.8 127.5L408.9 132.6L409.1 138.6L409.2 146.2L409.4 156.5L409.5 169.8L409.6 185.0L409.8 199.6L409.9 211.4L410.0 219.7L410.2 224.9L410.3 227.9L410.5 229.5L410.6 230.5L410.7 230.9L410.9 231.2L411.0 231.3L411.1 231.4L411.3 231.5L411.4 231.5L411.6 231.5L411.7 231.5L411.8 231.5L412.0 231.5L412.1 231.5L412.3 231.5L412.4 231.5L412.5 231.5L412.7 231.5L412.8 231.5L412.9 231.5L413.1 231.5L683.5 231.5" stroke="#1e32ff" stroke-width="1.2" fill="none" stroke-linejoin="round" clip-path="url(#cE)"/>
<path d="M407.0 8.0L407.1 26.0L407.3 41.7L407.4 54.5L407.6 65.4L407.7 75.1L407.8 84.3L408.0 93.2L408.1 101.3L408.2 108.0L408.4 113.3L408.5 118.2L408.7 122.8L408.8 127.5L408.9 132.6L409.1 138.6L409.2 146.2L409.4 156.5L409.5 169.8L409.6 185.0L409.8 199.6L409.9 211.4L410.0 219.7L410.2 224.9L410.3 227.9L410.5 229.5L410.6 230.5L410.7 230.9L410.9 231.2L411.0 231.3L411.1 231.4L411.3 231.5L411.4 231.5L411.6 231.5L411.7 231.5L411.8 231.5L412.0 231.5L412.1 231.5L412.3 231.5L412.4 231.5L412.5 231.5L412.7 231.5L412.8 231.5L412.9 231.5L413.1 231.5L683.5 231.5" stroke="#ff1e28" stroke-width="1.2" fill="none" stroke-linejoin="round" stroke-dasharray="5.5,2.8" clip-path="url(#cE)"/>
<path d="M407.0 8.0L407.3 48.4L407.7 75.1L408.0 97.3L408.4 112.9L408.7 123.3L409.1 130.9L409.4 136.0L409.8 140.0L410.1 143.3L410.5 146.1L410.8 148.7L411.1 151.2L411.5 153.8L411.8 156.2L412.2 158.6L412.5 160.8L412.9 162.8L413.2 164.6L413.6 166.3L413.9 167.8L414.3 169.2L414.6 170.6L414.9 171.8L415.3 173.1L415.8 174.9L416.2 176.1L416.6 177.3L417.0 178.4L417.3 179.5L417.7 180.6L418.1 181.6L418.4 182.6L418.8 183.6L419.2 184.6L419.5 185.6L419.9 186.7L420.3 187.8L420.6 188.9L421.0 190.1L421.4 191.5L421.7 193.0L422.1 194.9L422.5 197.4L422.8 200.7L423.2 204.9L423.6 210.1L423.9 215.4L424.3 220.2L424.7 224.0L425.0 226.8L425.4 228.6L425.8 229.8L426.1 230.5L426.5 230.9L426.9 231.1L427.3 231.3L427.6 231.4L428.0 231.4L428.4 231.5L428.7 231.5L429.1 231.5L429.5 231.5L429.8 231.5L430.2 231.5L430.6 231.5L430.9 231.5L431.3 231.5L431.7 231.5L432.0 231.5L432.4 231.5L432.8 231.5L433.1 231.5L433.5 231.5L433.9 231.5L434.2 231.5L434.6 231.5L435.0 231.5L435.3 231.5L435.7 231.5L436.1 231.5L436.4 231.5L436.8 231.5L437.2 231.5L437.6 231.5L683.5 231.5" stroke="#1e32ff" stroke-width="1.2" fill="none" stroke-linejoin="round" clip-path="url(#cE)"/>
<path d="M407.0 14.7L407.3 53.9L407.7 79.7L408.0 101.3L408.4 116.4L408.7 126.6L409.1 133.9L409.4 138.8L409.8 142.7L410.1 145.9L410.5 148.6L410.8 151.1L411.1 153.6L411.5 156.1L411.8 158.5L412.2 160.7L412.5 162.8L412.9 164.8L413.2 166.6L413.6 168.2L413.9 169.6L414.3 171.0L414.6 172.3L414.9 173.5L415.3 174.7L415.8 176.5L416.2 177.6L416.6 178.7L417.0 179.7L417.3 180.7L417.7 181.7L418.1 182.6L418.4 183.5L418.8 184.4L419.2 185.3L419.5 186.2L419.9 187.2L420.3 188.2L420.6 189.3L421.0 190.4L421.4 191.7L421.7 193.2L422.1 195.1L422.5 197.5L422.8 200.7L423.2 205.0L423.6 210.1L423.9 215.4L424.3 220.2L424.7 224.0L425.0 226.8L425.4 228.6L425.8 229.8L426.1 230.5L426.5 230.9L426.9 231.1L427.3 231.3L427.6 231.4L428.0 231.4L428.4 231.5L428.7 231.5L429.1 231.5L429.5 231.5L429.8 231.5L430.2 231.5L430.6 231.5L430.9 231.5L431.3 231.5L431.7 231.5L432.0 231.5L432.4 231.5L432.8 231.5L433.1 231.5L433.5 231.5L433.9 231.5L434.2 231.5L434.6 231.5L435.0 231.5L435.3 231.5L435.7 231.5L436.1 231.5L436.4 231.5L436.8 231.5L437.2 231.5L437.6 231.5L683.5 231.5" stroke="#ff1e28" stroke-width="1.2" fill="none" stroke-linejoin="round" stroke-dasharray="5.5,2.8" clip-path="url(#cE)"/>
<path d="M407.0 8.0L407.3 48.4L407.7 75.1L408.0 97.3L408.4 112.9L408.7 123.3L409.1 130.9L409.4 136.0L409.8 140.0L410.1 143.3L410.5 146.1L410.8 148.7L411.1 151.2L411.5 153.8L411.8 156.2L412.2 158.6L412.5 160.8L412.9 162.8L413.2 164.6L413.6 166.2L413.9 167.8L414.3 169.2L414.6 170.6L414.9 171.8L415.3 173.0L415.8 174.9L416.0 175.5L416.2 176.1L416.4 176.7L416.6 177.2L416.8 177.8L416.9 178.3L417.1 178.9L417.3 179.4L417.5 179.9L417.7 180.4L417.9 180.9L418.0 181.4L418.2 181.9L418.4 182.4L418.6 182.9L418.8 183.3L419.0 183.8L419.1 184.2L419.3 184.7L419.5 185.2L419.7 185.6L419.9 186.1L420.1 186.5L420.2 186.9L420.4 187.3L420.6 187.8L420.8 188.2L421.0 188.6L421.2 188.9L421.7 190.0L422.1 190.7L422.6 191.4L423.0 192.1L423.4 192.7L423.9 193.3L424.3 193.9L424.7 194.5L425.2 195.0L425.6 195.5L426.0 196.0L426.5 196.5L426.9 196.9L427.3 197.3L427.8 197.7L428.2 198.0L428.6 198.4L429.1 198.7L429.5 199.0L429.9 199.4L430.4 199.7L430.8 200.0L431.2 200.3L431.7 200.6L432.1 200.8L432.5 201.2L433.0 201.5L433.4 201.8L433.8 202.2L434.3 202.7L434.7 203.2L435.1 204.0L435.6 204.9L436.0 206.2L436.4 208.0L436.9 210.4L437.3 213.5L437.7 217.1L438.2 220.6L438.6 223.8L439.0 226.3L439.5 228.1L439.9 229.4L440.3 230.2L440.7 230.7L441.2 231.0L441.6 231.2L442.0 231.3L442.5 231.4L442.9 231.4L443.3 231.5L443.8 231.5L444.2 231.5L444.6 231.5L445.1 231.5L445.5 231.5L445.9 231.5L446.4 231.5L446.8 231.5L447.2 231.5L447.7 231.5L448.1 231.5L448.5 231.5L449.0 231.5L449.4 231.5L449.8 231.5L450.3 231.5L450.7 231.5L451.1 231.5L451.6 231.5L683.5 231.5" stroke="#1e32ff" stroke-width="1.2" fill="none" stroke-linejoin="round" clip-path="url(#cE)"/>
<path d="M407.0 14.7L407.3 53.9L407.7 79.7L408.0 101.3L408.4 116.4L408.7 126.6L409.1 133.9L409.4 138.8L409.8 142.7L410.1 145.9L410.5 148.6L410.8 151.1L411.1 153.6L411.5 156.1L411.8 158.5L412.2 160.7L412.5 162.9L412.9 164.8L413.2 166.6L413.6 168.2L413.9 169.7L414.3 171.1L414.6 172.4L414.9 173.6L415.3 174.8L415.8 176.6L416.0 177.2L416.2 177.7L416.4 178.3L416.6 178.8L416.8 179.4L416.9 179.9L417.1 180.4L417.3 180.9L417.5 181.5L417.7 181.9L417.9 182.4L418.0 182.9L418.2 183.4L418.4 183.8L418.6 184.3L418.8 184.7L419.0 185.2L419.1 185.6L419.3 186.1L419.5 186.5L419.7 187.0L419.9 187.4L420.1 187.8L420.2 188.2L420.4 188.6L420.6 189.0L420.8 189.4L421.0 189.8L421.2 190.2L421.7 191.2L422.1 191.9L422.6 192.6L423.0 193.2L423.4 193.8L423.9 194.4L424.3 195.0L424.7 195.6L425.2 196.1L425.6 196.6L426.0 197.0L426.5 197.5L426.9 197.9L427.3 198.3L427.8 198.6L428.2 199.0L428.6 199.3L429.1 199.6L429.5 199.9L429.9 200.2L430.4 200.5L430.8 200.7L431.2 201.0L431.7 201.2L432.1 201.5L432.5 201.7L433.0 202.0L433.4 202.2L433.8 202.6L434.3 203.0L434.7 203.5L435.1 204.1L435.6 205.0L436.0 206.3L436.4 208.1L436.9 210.5L437.3 213.6L437.7 217.1L438.2 220.7L438.6 223.8L439.0 226.3L439.5 228.1L439.9 229.4L440.3 230.2L440.7 230.7L441.2 231.0L441.6 231.2L442.0 231.3L442.5 231.4L442.9 231.4L443.3 231.5L443.8 231.5L444.2 231.5L444.6 231.5L445.1 231.5L445.5 231.5L445.9 231.5L446.4 231.5L446.8 231.5L447.2 231.5L447.7 231.5L448.1 231.5L448.5 231.5L449.0 231.5L449.4 231.5L449.8 231.5L450.3 231.5L450.7 231.5L451.1 231.5L451.6 231.5L683.5 231.5" stroke="#ff1e28" stroke-width="1.2" fill="none" stroke-linejoin="round" stroke-dasharray="5.5,2.8" clip-path="url(#cE)"/>
<path d="M407.0 8.0L407.3 48.4L407.7 75.1L408.0 97.3L408.4 112.9L408.7 123.3L409.1 130.9L409.4 136.0L409.8 140.0L410.1 143.3L410.5 146.1L410.8 148.7L411.1 151.2L411.5 153.8L411.8 156.2L412.2 158.6L412.5 160.8L412.9 162.8L413.2 164.6L413.6 166.2L413.9 167.8L414.3 169.2L414.6 170.6L414.9 171.8L415.3 173.0L415.8 174.9L416.5 177.1L417.2 179.1L417.9 181.0L418.6 182.8L419.2 184.5L419.9 186.2L420.6 187.8L421.3 189.2L422.0 190.4L422.6 191.5L423.3 192.5L424.0 193.5L424.7 194.4L425.4 195.2L426.0 196.0L426.7 196.7L427.4 197.4L428.1 197.9L428.8 198.5L429.4 199.0L430.1 199.4L430.8 199.9L431.5 200.3L432.2 200.7L432.8 201.1L433.5 201.4L434.2 201.8L434.9 202.0L435.6 202.3L436.1 202.5L436.5 202.7L437.0 202.8L437.4 203.0L437.8 203.1L438.3 203.2L438.7 203.4L439.1 203.5L439.6 203.6L440.0 203.7L440.4 203.8L440.9 204.0L441.3 204.1L441.7 204.2L442.2 204.3L442.6 204.4L443.0 204.5L443.5 204.6L443.9 204.7L444.3 204.8L444.8 205.0L445.2 205.1L445.6 205.2L446.1 205.4L446.5 205.5L446.9 205.7L447.4 205.9L447.8 206.2L448.2 206.5L448.7 206.9L449.1 207.4L449.5 208.1L450.0 208.9L450.4 210.1L450.8 211.7L451.3 213.7L451.7 216.1L452.1 218.8L452.6 221.4L453.0 223.8L453.4 225.9L453.9 227.5L454.3 228.7L454.7 229.6L455.2 230.2L455.6 230.7L456.0 230.9L456.4 231.1L456.9 231.3L457.3 231.3L457.7 231.4L458.2 231.4L458.6 231.5L459.0 231.5L459.5 231.5L459.9 231.5L460.3 231.5L460.8 231.5L461.2 231.5L461.6 231.5L462.1 231.5L462.5 231.5L462.9 231.5L463.4 231.5L463.8 231.5L464.2 231.5L464.7 231.5L465.1 231.5L465.5 231.5L466.0 231.5L683.5 231.5" stroke="#1e32ff" stroke-width="1.2" fill="none" stroke-linejoin="round" clip-path="url(#cE)"/>
<path d="M407.0 14.7L407.3 53.9L407.7 79.7L408.0 101.3L408.4 116.4L408.7 126.6L409.1 133.9L409.4 138.8L409.8 142.7L410.1 145.9L410.5 148.6L410.8 151.1L411.1 153.6L411.5 156.1L411.8 158.5L412.2 160.7L412.5 162.9L412.9 164.8L413.2 166.6L413.6 168.2L413.9 169.7L414.3 171.1L414.6 172.4L414.9 173.6L415.3 174.8L415.8 176.6L416.5 178.7L417.2 180.7L417.9 182.5L418.6 184.2L419.2 185.9L419.9 187.5L420.6 189.0L421.3 190.4L422.0 191.6L422.6 192.7L423.3 193.7L424.0 194.6L424.7 195.5L425.4 196.3L426.0 197.0L426.7 197.7L427.4 198.3L428.1 198.9L428.8 199.4L429.4 199.9L430.1 200.4L430.8 200.8L431.5 201.2L432.2 201.6L432.8 202.0L433.5 202.3L434.2 202.6L434.9 202.9L435.6 203.2L436.1 203.4L436.5 203.5L437.0 203.6L437.4 203.8L437.8 203.9L438.3 204.0L438.7 204.2L439.1 204.3L439.6 204.4L440.0 204.5L440.4 204.6L440.9 204.7L441.3 204.8L441.7 204.9L442.2 205.0L442.6 205.1L443.0 205.2L443.5 205.3L443.9 205.4L444.3 205.5L444.8 205.6L445.2 205.7L445.6 205.8L446.1 205.9L446.5 206.0L446.9 206.2L447.4 206.3L447.8 206.5L448.2 206.8L448.7 207.1L449.1 207.6L449.5 208.2L450.0 209.1L450.4 210.2L450.8 211.8L451.3 213.8L451.7 216.1L452.1 218.8L452.6 221.4L453.0 223.8L453.4 225.9L453.9 227.5L454.3 228.7L454.7 229.6L455.2 230.2L455.6 230.7L456.0 230.9L456.4 231.1L456.9 231.3L457.3 231.3L457.7 231.4L458.2 231.4L458.6 231.5L459.0 231.5L459.5 231.5L459.9 231.5L460.3 231.5L460.8 231.5L461.2 231.5L461.6 231.5L462.1 231.5L462.5 231.5L462.9 231.5L463.4 231.5L463.8 231.5L464.2 231.5L464.7 231.5L465.1 231.5L465.5 231.5L466.0 231.5L683.5 231.5" stroke="#ff1e28" stroke-width="1.2" fill="none" stroke-linejoin="round" stroke-dasharray="5.5,2.8" clip-path="url(#cE)"/>
<path d="M407.0 8.0L407.3 48.4L407.7 75.1L408.0 97.3L408.4 112.9L408.7 123.3L409.1 130.9L409.4 136.0L409.8 140.0L410.1 143.3L410.5 146.1L410.8 148.7L411.1 151.2L411.5 153.8L411.8 156.2L412.2 158.6L412.5 160.8L412.9 162.8L413.2 164.6L413.6 166.2L413.9 167.8L414.3 169.2L414.6 170.6L414.9 171.8L415.3 173.0L415.8 174.9L417.0 178.5L418.2 181.8L419.3 184.8L420.5 187.5L421.7 189.9L422.8 191.8L424.0 193.5L425.2 195.0L426.3 196.3L427.5 197.5L428.7 198.4L429.8 199.3L431.0 200.0L432.2 200.7L433.3 201.3L434.5 201.9L435.7 202.4L436.8 202.8L438.0 203.2L439.2 203.5L440.3 203.8L441.5 204.1L442.7 204.4L443.8 204.7L445.0 204.9L446.2 205.2L447.3 205.4L448.5 205.6L449.6 205.8L450.2 205.9L450.6 206.0L451.1 206.1L451.5 206.2L451.9 206.3L452.4 206.3L452.8 206.4L453.2 206.5L453.7 206.6L454.1 206.7L454.5 206.8L455.0 206.9L455.4 206.9L455.8 207.0L456.3 207.1L456.7 207.2L457.1 207.3L457.6 207.4L458.0 207.5L458.4 207.5L458.9 207.6L459.3 207.7L459.7 207.8L460.2 207.9L460.6 208.1L461.0 208.2L461.5 208.4L461.9 208.7L462.3 208.9L462.8 209.3L463.2 209.8L463.6 210.5L464.0 211.3L464.5 212.4L464.9 213.8L465.3 215.5L465.8 217.4L466.2 219.5L466.6 221.6L467.1 223.6L467.5 225.4L467.9 226.9L468.4 228.1L468.8 229.0L469.2 229.7L469.7 230.2L470.1 230.6L470.5 230.9L471.0 231.0L471.4 231.2L471.8 231.3L472.3 231.3L472.7 231.4L473.1 231.4L473.6 231.4L474.0 231.5L474.4 231.5L474.9 231.5L475.3 231.5L475.7 231.5L476.2 231.5L476.6 231.5L477.0 231.5L477.5 231.5L477.9 231.5L478.3 231.5L478.8 231.5L479.2 231.5L479.6 231.5L480.1 231.5L683.5 231.5" stroke="#1e32ff" stroke-width="1.2" fill="none" stroke-linejoin="round" clip-path="url(#cE)"/>
<path d="M407.0 14.7L407.3 53.9L407.7 79.7L408.0 101.3L408.4 116.4L408.7 126.6L409.1 133.9L409.4 138.8L409.8 142.7L410.1 145.9L410.5 148.6L410.8 151.1L411.1 153.6L411.5 156.1L411.8 158.5L412.2 160.7L412.5 162.9L412.9 164.8L413.2 166.6L413.6 168.2L413.9 169.7L414.3 171.1L414.6 172.4L414.9 173.6L415.3 174.8L415.8 176.6L417.0 180.1L418.2 183.3L419.3 186.1L420.5 188.8L421.7 191.1L422.8 193.0L424.0 194.6L425.2 196.1L426.3 197.4L427.5 198.4L428.7 199.4L429.8 200.2L431.0 200.9L432.2 201.6L433.3 202.2L434.5 202.7L435.7 203.2L436.8 203.6L438.0 204.0L439.2 204.3L440.3 204.6L441.5 204.9L442.7 205.2L443.8 205.4L445.0 205.7L446.2 205.9L447.3 206.1L448.5 206.4L449.6 206.6L450.2 206.7L450.6 206.7L451.1 206.8L451.5 206.9L451.9 207.0L452.4 207.0L452.8 207.1L453.2 207.2L453.7 207.3L454.1 207.4L454.5 207.5L455.0 207.5L455.4 207.6L455.8 207.7L456.3 207.8L456.7 207.8L457.1 207.9L457.6 208.0L458.0 208.1L458.4 208.1L458.9 208.2L459.3 208.3L459.7 208.4L460.2 208.4L460.6 208.5L461.0 208.6L461.5 208.8L461.9 209.0L462.3 209.2L462.8 209.5L463.2 210.0L463.6 210.6L464.0 211.4L464.5 212.5L464.9 213.8L465.3 215.5L465.8 217.4L466.2 219.5L466.6 221.6L467.1 223.6L467.5 225.4L467.9 226.9L468.4 228.1L468.8 229.0L469.2 229.7L469.7 230.2L470.1 230.6L470.5 230.9L471.0 231.0L471.4 231.2L471.8 231.3L472.3 231.3L472.7 231.4L473.1 231.4L473.6 231.4L474.0 231.5L474.4 231.5L474.9 231.5L475.3 231.5L475.7 231.5L476.2 231.5L476.6 231.5L477.0 231.5L477.5 231.5L477.9 231.5L478.3 231.5L478.8 231.5L479.2 231.5L479.6 231.5L480.1 231.5L683.5 231.5" stroke="#ff1e28" stroke-width="1.2" fill="none" stroke-linejoin="round" stroke-dasharray="5.5,2.8" clip-path="url(#cE)"/>
<path d="M407.0 8.0L407.3 48.4L407.7 75.0L408.0 97.3L408.4 112.9L408.7 123.3L409.1 130.9L409.4 136.0L409.8 140.0L410.1 143.3L410.5 146.1L410.8 148.7L411.1 151.2L411.5 153.8L411.8 156.2L412.2 158.6L412.5 160.8L412.9 162.8L413.2 164.6L413.6 166.2L413.9 167.8L414.3 169.2L414.6 170.6L414.9 171.8L415.3 173.0L415.8 174.9L417.5 180.0L419.2 184.3L420.8 188.2L422.5 191.2L424.1 193.7L425.8 195.7L427.4 197.4L429.1 198.7L430.7 199.9L432.4 200.9L434.1 201.7L435.7 202.4L437.4 203.0L439.0 203.5L440.7 203.9L442.3 204.3L444.0 204.7L445.6 205.1L447.3 205.4L448.9 205.7L450.6 206.0L452.3 206.3L453.9 206.6L455.6 207.0L457.2 207.2L458.9 207.5L460.5 207.7L462.2 207.8L463.8 207.8L464.4 207.8L464.8 207.8L465.3 207.8L465.7 207.8L466.1 207.8L466.6 207.8L467.0 207.8L467.4 207.8L467.9 207.8L468.3 207.8L468.7 207.8L469.2 207.8L469.6 207.8L470.0 207.8L470.5 207.8L470.9 207.8L471.3 207.8L471.8 207.8L472.2 207.8L472.6 207.8L473.1 207.9L473.5 207.9L473.9 208.0L474.4 208.1L474.8 208.2L475.2 208.3L475.6 208.5L476.1 208.8L476.5 209.1L476.9 209.5L477.4 210.1L477.8 210.8L478.2 211.6L478.7 212.7L479.1 214.1L479.5 215.7L480.0 217.4L480.4 219.3L480.8 221.2L481.3 223.0L481.7 224.6L482.1 226.0L482.6 227.3L483.0 228.2L483.4 229.0L483.9 229.6L484.3 230.1L484.7 230.5L485.2 230.7L485.6 230.9L486.0 231.1L486.5 231.2L486.9 231.3L487.3 231.3L487.8 231.4L488.2 231.4L488.6 231.4L489.1 231.5L489.5 231.5L489.9 231.5L490.4 231.5L490.8 231.5L491.2 231.5L491.7 231.5L492.1 231.5L492.5 231.5L493.0 231.5L493.4 231.5L493.8 231.5L494.3 231.5L683.5 231.5" stroke="#1e32ff" stroke-width="1.2" fill="none" stroke-linejoin="round" clip-path="url(#cE)"/>
<path d="M407.0 14.7L407.3 53.9L407.7 79.7L408.0 101.3L408.4 116.4L408.7 126.6L409.1 133.9L409.4 138.8L409.8 142.7L410.1 145.9L410.5 148.6L410.8 151.1L411.1 153.6L411.5 156.1L411.8 158.5L412.2 160.7L412.5 162.9L412.9 164.8L413.2 166.6L413.6 168.2L413.9 169.7L414.3 171.1L414.6 172.4L414.9 173.6L415.3 174.8L415.8 176.6L417.5 181.5L419.2 185.7L420.8 189.5L422.5 192.4L424.1 194.8L425.8 196.8L427.4 198.4L429.1 199.7L430.7 200.8L432.4 201.7L434.1 202.5L435.7 203.2L437.4 203.8L439.0 204.3L440.7 204.7L442.3 205.1L444.0 205.5L445.6 205.8L447.3 206.1L448.9 206.4L450.6 206.7L452.3 207.0L453.9 207.3L455.6 207.6L457.2 207.9L458.9 208.2L460.5 208.3L462.2 208.4L463.8 208.5L464.4 208.4L464.8 208.4L465.3 208.4L465.7 208.4L466.1 208.4L466.6 208.4L467.0 208.4L467.4 208.4L467.9 208.4L468.3 208.4L468.7 208.4L469.2 208.4L469.6 208.4L470.0 208.4L470.5 208.4L470.9 208.4L471.3 208.4L471.8 208.4L472.2 208.4L472.6 208.4L473.1 208.4L473.5 208.4L473.9 208.5L474.4 208.5L474.8 208.6L475.2 208.7L475.6 208.9L476.1 209.1L476.5 209.3L476.9 209.7L477.4 210.2L477.8 210.9L478.2 211.7L478.7 212.8L479.1 214.1L479.5 215.7L480.0 217.4L480.4 219.3L480.8 221.2L481.3 223.0L481.7 224.6L482.1 226.0L482.6 227.3L483.0 228.2L483.4 229.0L483.9 229.6L484.3 230.1L484.7 230.5L485.2 230.7L485.6 230.9L486.0 231.1L486.5 231.2L486.9 231.3L487.3 231.3L487.8 231.4L488.2 231.4L488.6 231.4L489.1 231.5L489.5 231.5L489.9 231.5L490.4 231.5L490.8 231.5L491.2 231.5L491.7 231.5L492.1 231.5L492.5 231.5L493.0 231.5L493.4 231.5L493.8 231.5L494.3 231.5L683.5 231.5" stroke="#ff1e28" stroke-width="1.2" fill="none" stroke-linejoin="round" stroke-dasharray="5.5,2.8" clip-path="url(#cE)"/>
<path d="M407.0 8.0L407.3 48.4L407.7 75.0L408.0 97.3L408.4 112.9L408.7 123.3L409.1 130.9L409.4 136.0L409.8 140.0L410.1 143.3L410.5 146.1L410.8 148.7L411.1 151.2L411.5 153.8L411.8 156.2L412.2 158.6L412.5 160.8L412.9 162.8L413.2 164.6L413.6 166.2L413.9 167.8L414.3 169.2L414.6 170.6L414.9 171.8L415.3 173.0L415.8 174.9L418.0 181.3L420.2 186.8L422.3 191.0L424.5 194.2L426.7 196.7L428.8 198.5L431.0 200.0L433.1 201.2L435.3 202.2L437.5 203.0L439.6 203.6L441.8 204.2L444.0 204.7L446.1 205.2L448.3 205.6L450.4 206.0L452.6 206.4L454.8 206.8L456.9 207.2L459.1 207.5L461.3 207.7L463.4 207.8L465.6 207.8L467.7 207.8L469.9 207.7L472.1 207.7L474.2 207.6L476.4 207.5L478.6 207.4L479.1 207.4L479.5 207.3L480.0 207.3L480.4 207.3L480.8 207.2L481.3 207.2L481.7 207.2L482.1 207.1L482.6 207.1L483.0 207.1L483.4 207.0L483.9 207.0L484.3 207.0L484.7 206.9L485.2 206.9L485.6 206.9L486.0 206.9L486.5 206.9L486.9 206.9L487.3 206.9L487.8 206.9L488.2 206.9L488.6 206.9L489.1 207.0L489.5 207.1L489.9 207.3L490.4 207.4L490.8 207.7L491.2 208.1L491.7 208.5L492.1 209.1L492.5 209.8L493.0 210.8L493.4 211.9L493.8 213.2L494.3 214.8L494.7 216.4L495.1 218.2L495.6 220.0L496.0 221.8L496.4 223.4L496.8 224.9L497.3 226.1L497.7 227.2L498.1 228.1L498.6 228.9L499.0 229.5L499.4 229.9L499.9 230.3L500.3 230.6L500.7 230.8L501.2 231.0L501.6 231.1L502.0 231.2L502.5 231.3L502.9 231.3L503.3 231.4L503.8 231.4L504.2 231.4L504.6 231.4L505.1 231.5L505.5 231.5L505.9 231.5L506.4 231.5L506.8 231.5L507.2 231.5L507.7 231.5L508.1 231.5L508.5 231.5L509.0 231.5L683.5 231.5" stroke="#1e32ff" stroke-width="1.2" fill="none" stroke-linejoin="round" clip-path="url(#cE)"/>
<path d="M407.0 14.7L407.3 53.9L407.7 79.7L408.0 101.3L408.4 116.4L408.7 126.6L409.1 133.9L409.4 138.8L409.8 142.7L410.1 145.9L410.5 148.6L410.8 151.1L411.1 153.6L411.5 156.1L411.8 158.5L412.2 160.7L412.5 162.9L412.9 164.8L413.2 166.6L413.6 168.2L413.9 169.7L414.3 171.1L414.6 172.4L414.9 173.6L415.3 174.8L415.8 176.6L418.0 182.8L420.2 188.1L422.3 192.2L424.5 195.3L426.7 197.7L428.8 199.5L431.0 200.9L433.1 202.1L435.3 203.1L437.5 203.8L439.6 204.4L441.8 205.0L444.0 205.5L446.1 205.9L448.3 206.3L450.4 206.7L452.6 207.1L454.8 207.5L456.9 207.9L459.1 208.2L461.3 208.4L463.4 208.5L465.6 208.4L467.7 208.4L469.9 208.4L472.1 208.3L474.2 208.2L476.4 208.2L478.6 208.0L479.1 208.0L479.5 208.0L480.0 207.9L480.4 207.9L480.8 207.9L481.3 207.8L481.7 207.8L482.1 207.8L482.6 207.7L483.0 207.7L483.4 207.7L483.9 207.6L484.3 207.6L484.7 207.6L485.2 207.5L485.6 207.5L486.0 207.5L486.5 207.5L486.9 207.5L487.3 207.5L487.8 207.4L488.2 207.4L488.6 207.5L489.1 207.5L489.5 207.6L489.9 207.7L490.4 207.8L490.8 208.0L491.2 208.3L491.7 208.7L492.1 209.3L492.5 210.0L493.0 210.9L493.4 212.0L493.8 213.3L494.3 214.8L494.7 216.5L495.1 218.2L495.6 220.0L496.0 221.8L496.4 223.4L496.8 224.9L497.3 226.1L497.7 227.2L498.1 228.1L498.6 228.9L499.0 229.5L499.4 229.9L499.9 230.3L500.3 230.6L500.7 230.8L501.2 231.0L501.6 231.1L502.0 231.2L502.5 231.3L502.9 231.3L503.3 231.4L503.8 231.4L504.2 231.4L504.6 231.4L505.1 231.5L505.5 231.5L505.9 231.5L506.4 231.5L506.8 231.5L507.2 231.5L507.7 231.5L508.1 231.5L508.5 231.5L509.0 231.5L683.5 231.5" stroke="#ff1e28" stroke-width="1.2" fill="none" stroke-linejoin="round" stroke-dasharray="5.5,2.8" clip-path="url(#cE)"/>
<path d="M407.0 8.0L407.3 48.4L407.7 75.0L408.0 97.3L408.4 112.9L408.7 123.3L409.1 130.9L409.4 136.0L409.8 140.0L410.1 143.3L410.5 146.1L410.8 148.7L411.1 151.2L411.5 153.8L411.8 156.2L412.2 158.6L412.5 160.8L412.9 162.8L413.2 164.6L413.6 166.2L413.9 167.8L414.3 169.2L414.6 170.6L414.9 171.8L415.3 173.0L415.8 174.9L418.5 182.6L421.2 188.9L423.8 193.2L426.5 196.5L429.1 198.7L431.8 200.5L434.4 201.9L437.1 202.9L439.7 203.7L442.4 204.3L445.1 204.9L447.7 205.5L450.4 206.0L453.0 206.5L455.7 207.0L458.3 207.4L461.0 207.7L463.6 207.8L466.3 207.8L469.0 207.7L471.6 207.7L474.3 207.6L476.9 207.5L479.6 207.3L482.2 207.1L484.9 206.9L487.5 206.6L490.2 206.1L492.9 205.6L493.4 205.5L493.8 205.4L494.3 205.3L494.7 205.2L495.1 205.2L495.6 205.1L496.0 205.0L496.4 204.9L496.9 204.8L497.3 204.7L497.7 204.6L498.2 204.6L498.6 204.5L499.0 204.4L499.5 204.4L499.9 204.3L500.3 204.2L500.8 204.2L501.2 204.2L501.6 204.1L502.1 204.1L502.5 204.1L502.9 204.2L503.4 204.3L503.8 204.4L504.2 204.6L504.7 204.8L505.1 205.2L505.5 205.6L506.0 206.1L506.4 206.8L506.8 207.7L507.3 208.7L507.7 209.9L508.1 211.4L508.6 212.9L509.0 214.7L509.4 216.5L509.8 218.3L510.3 220.1L510.7 221.8L511.1 223.3L511.6 224.7L512.0 225.9L512.4 227.0L512.9 227.9L513.3 228.6L513.7 229.2L514.2 229.7L514.6 230.0L515.0 230.4L515.5 230.6L515.9 230.8L516.3 230.9L516.8 231.1L517.2 231.2L517.6 231.2L518.1 231.3L518.5 231.3L518.9 231.4L519.4 231.4L519.8 231.4L520.2 231.4L520.7 231.5L521.1 231.5L521.5 231.5L522.0 231.5L522.4 231.5L522.8 231.5L523.3 231.5L683.5 231.5" stroke="#1e32ff" stroke-width="1.2" fill="none" stroke-linejoin="round" clip-path="url(#cE)"/>
<path d="M407.0 14.7L407.3 53.9L407.7 79.7L408.0 101.3L408.4 116.4L408.7 126.6L409.1 133.9L409.4 138.8L409.8 142.7L410.1 145.9L410.5 148.6L410.8 151.1L411.1 153.6L411.5 156.1L411.8 158.5L412.2 160.7L412.5 162.9L412.9 164.8L413.2 166.6L413.6 168.2L413.9 169.7L414.3 171.1L414.6 172.4L414.9 173.6L415.3 174.8L415.8 176.6L418.5 184.1L421.2 190.2L423.8 194.4L426.5 197.5L429.1 199.7L431.8 201.4L434.4 202.7L437.1 203.7L439.7 204.4L442.4 205.1L445.1 205.7L447.7 206.2L450.4 206.7L453.0 207.2L455.7 207.7L458.3 208.1L461.0 208.4L463.6 208.5L466.3 208.4L469.0 208.4L471.6 208.3L474.3 208.2L476.9 208.1L479.6 208.0L482.2 207.8L484.9 207.5L487.5 207.2L490.2 206.8L492.9 206.3L493.4 206.2L493.8 206.1L494.3 206.0L494.7 205.9L495.1 205.8L495.6 205.7L496.0 205.7L496.4 205.6L496.9 205.5L497.3 205.4L497.7 205.3L498.2 205.2L498.6 205.2L499.0 205.1L499.5 205.0L499.9 205.0L500.3 204.9L500.8 204.8L501.2 204.8L501.6 204.8L502.1 204.7L502.5 204.7L502.9 204.8L503.4 204.8L503.8 204.9L504.2 205.0L504.7 205.2L505.1 205.5L505.5 205.9L506.0 206.4L506.4 207.0L506.8 207.8L507.3 208.8L507.7 210.0L508.1 211.4L508.6 213.0L509.0 214.7L509.4 216.5L509.8 218.3L510.3 220.1L510.7 221.8L511.1 223.3L511.6 224.7L512.0 226.0L512.4 227.0L512.9 227.9L513.3 228.6L513.7 229.2L514.2 229.7L514.6 230.0L515.0 230.4L515.5 230.6L515.9 230.8L516.3 230.9L516.8 231.1L517.2 231.2L517.6 231.2L518.1 231.3L518.5 231.3L518.9 231.4L519.4 231.4L519.8 231.4L520.2 231.4L520.7 231.5L521.1 231.5L521.5 231.5L522.0 231.5L522.4 231.5L522.8 231.5L523.3 231.5L683.5 231.5" stroke="#ff1e28" stroke-width="1.2" fill="none" stroke-linejoin="round" stroke-dasharray="5.5,2.8" clip-path="url(#cE)"/>
<path d="M407.0 8.0L407.3 48.4L407.7 75.0L408.0 97.3L408.4 112.9L408.7 123.3L409.1 130.9L409.4 136.0L409.8 140.0L410.1 143.3L410.5 146.1L410.8 148.7L411.1 151.2L411.5 153.8L411.8 156.2L412.2 158.6L412.5 160.8L412.9 162.8L413.2 164.6L413.6 166.2L413.9 167.8L414.3 169.2L414.6 170.6L414.9 171.8L415.3 173.0L415.8 174.9L419.0 183.9L422.2 190.8L425.3 195.2L428.5 198.3L431.7 200.4L434.8 202.0L438.0 203.2L441.1 204.0L444.3 204.8L447.5 205.4L450.6 206.0L453.8 206.6L457.0 207.2L460.1 207.6L463.3 207.8L466.4 207.8L469.6 207.7L472.8 207.6L475.9 207.5L479.1 207.4L482.3 207.1L485.4 206.8L488.6 206.4L491.7 205.8L494.9 205.2L498.1 204.5L501.2 203.8L504.4 203.0L507.6 202.2L508.1 202.0L508.5 201.9L509.0 201.8L509.4 201.7L509.8 201.6L510.3 201.5L510.7 201.4L511.1 201.3L511.6 201.2L512.0 201.1L512.4 201.0L512.9 200.9L513.3 200.8L513.7 200.7L514.2 200.6L514.6 200.5L515.0 200.5L515.5 200.4L515.9 200.4L516.3 200.4L516.8 200.4L517.2 200.5L517.6 200.5L518.1 200.7L518.5 200.8L518.9 201.1L519.4 201.4L519.8 201.8L520.2 202.4L520.7 203.0L521.1 203.8L521.5 204.8L522.0 205.9L522.4 207.3L522.8 208.8L523.3 210.5L523.7 212.3L524.1 214.1L524.6 216.0L525.0 217.9L525.4 219.7L525.9 221.4L526.3 222.9L526.7 224.3L527.2 225.5L527.6 226.5L528.0 227.4L528.5 228.2L528.9 228.8L529.3 229.3L529.8 229.7L530.2 230.1L530.6 230.3L531.1 230.6L531.5 230.8L531.9 230.9L532.3 231.0L532.8 231.1L533.2 231.2L533.6 231.3L534.1 231.3L534.5 231.3L534.9 231.4L535.4 231.4L535.8 231.4L536.2 231.4L536.7 231.4L537.1 231.5L537.5 231.5L538.0 231.5L683.5 231.5" stroke="#1e32ff" stroke-width="1.2" fill="none" stroke-linejoin="round" clip-path="url(#cE)"/>
<path d="M407.0 14.7L407.3 53.9L407.7 79.7L408.0 101.3L408.4 116.4L408.7 126.6L409.1 133.9L409.4 138.8L409.8 142.7L410.1 145.9L410.5 148.6L410.8 151.1L411.1 153.6L411.5 156.1L411.8 158.5L412.2 160.7L412.5 162.9L412.9 164.8L413.2 166.6L413.6 168.2L413.9 169.7L414.3 171.1L414.6 172.4L414.9 173.6L415.3 174.8L415.8 176.6L419.0 185.3L422.2 192.0L425.3 196.3L428.5 199.2L431.7 201.3L434.8 202.9L438.0 204.0L441.1 204.8L444.3 205.5L447.5 206.2L450.6 206.7L453.8 207.3L457.0 207.9L460.1 208.3L463.3 208.5L466.4 208.4L469.6 208.4L472.8 208.3L475.9 208.2L479.1 208.0L482.3 207.7L485.4 207.4L488.6 207.1L491.7 206.5L494.9 205.9L498.1 205.2L501.2 204.5L504.4 203.7L507.6 202.9L508.1 202.8L508.5 202.7L509.0 202.5L509.4 202.4L509.8 202.3L510.3 202.2L510.7 202.1L511.1 202.0L511.6 201.9L512.0 201.8L512.4 201.7L512.9 201.6L513.3 201.5L513.7 201.4L514.2 201.4L514.6 201.3L515.0 201.2L515.5 201.2L515.9 201.1L516.3 201.1L516.8 201.1L517.2 201.1L517.6 201.2L518.1 201.2L518.5 201.4L518.9 201.6L519.4 201.8L519.8 202.2L520.2 202.6L520.7 203.2L521.1 204.0L521.5 204.9L522.0 206.0L522.4 207.3L522.8 208.8L523.3 210.5L523.7 212.3L524.1 214.1L524.6 216.0L525.0 217.9L525.4 219.7L525.9 221.4L526.3 222.9L526.7 224.3L527.2 225.5L527.6 226.5L528.0 227.4L528.5 228.2L528.9 228.8L529.3 229.3L529.8 229.7L530.2 230.1L530.6 230.3L531.1 230.6L531.5 230.8L531.9 230.9L532.3 231.0L532.8 231.1L533.2 231.2L533.6 231.3L534.1 231.3L534.5 231.3L534.9 231.4L535.4 231.4L535.8 231.4L536.2 231.4L536.7 231.4L537.1 231.5L537.5 231.5L538.0 231.5L683.5 231.5" stroke="#ff1e28" stroke-width="1.2" fill="none" stroke-linejoin="round" stroke-dasharray="5.5,2.8" clip-path="url(#cE)"/>
<path d="M407.0 8.0L407.3 48.4L407.7 75.0L408.0 97.3L408.4 112.9L408.7 123.3L409.1 130.9L409.4 136.0L409.8 140.0L410.1 143.3L410.5 146.1L410.8 148.7L411.1 151.2L411.5 153.8L411.8 156.2L412.2 158.6L412.5 160.8L412.9 162.8L413.2 164.6L413.6 166.2L413.9 167.8L414.3 169.2L414.6 170.6L414.9 171.8L415.3 173.0L415.8 174.9L419.5 185.1L423.2 192.3L426.8 196.8L430.5 199.7L434.1 201.7L437.8 203.1L441.4 204.1L445.1 205.0L448.7 205.7L452.4 206.4L456.1 207.0L459.7 207.6L463.4 207.8L467.0 207.8L470.7 207.7L474.3 207.6L478.0 207.4L481.6 207.2L485.3 206.8L489.0 206.3L492.6 205.7L496.3 204.9L499.9 204.1L503.6 203.2L507.2 202.2L510.9 201.3L514.5 200.2L518.2 199.1L521.9 197.9L522.4 197.7L522.8 197.5L523.3 197.4L523.7 197.2L524.1 197.1L524.6 196.9L525.0 196.7L525.4 196.6L525.9 196.4L526.3 196.3L526.7 196.1L527.2 196.0L527.6 195.8L528.0 195.7L528.5 195.6L528.9 195.5L529.3 195.4L529.8 195.3L530.2 195.3L530.6 195.2L531.1 195.2L531.5 195.3L531.9 195.4L532.4 195.5L532.8 195.7L533.2 196.0L533.7 196.3L534.1 196.8L534.5 197.4L535.0 198.2L535.4 199.1L535.8 200.2L536.3 201.6L536.7 203.1L537.1 204.9L537.6 206.8L538.0 208.9L538.4 211.1L538.9 213.3L539.3 215.5L539.7 217.6L540.2 219.6L540.6 221.4L541.0 223.0L541.5 224.4L541.9 225.6L542.3 226.6L542.8 227.5L543.2 228.3L543.6 228.9L544.1 229.4L544.5 229.8L544.9 230.1L545.3 230.4L545.8 230.6L546.2 230.8L546.6 230.9L547.1 231.0L547.5 231.1L547.9 231.2L548.4 231.3L548.8 231.3L549.2 231.3L549.7 231.4L550.1 231.4L550.5 231.4L551.0 231.4L551.4 231.4L551.8 231.5L552.3 231.5L683.5 231.5" stroke="#1e32ff" stroke-width="1.2" fill="none" stroke-linejoin="round" clip-path="url(#cE)"/>
<path d="M407.0 14.7L407.3 53.9L407.7 79.7L408.0 101.3L408.4 116.4L408.7 126.6L409.1 133.9L409.4 138.8L409.8 142.7L410.1 145.9L410.5 148.6L410.8 151.1L411.1 153.6L411.5 156.1L411.8 158.5L412.2 160.7L412.5 162.9L412.9 164.8L413.2 166.6L413.6 168.2L413.9 169.7L414.3 171.1L414.6 172.4L414.9 173.6L415.3 174.8L415.8 176.6L419.5 186.5L423.2 193.4L426.8 197.8L430.5 200.6L434.1 202.6L437.8 203.9L441.4 204.9L445.1 205.7L448.7 206.4L452.4 207.0L456.1 207.7L459.7 208.3L463.4 208.5L467.0 208.4L470.7 208.3L474.3 208.2L478.0 208.1L481.6 207.8L485.3 207.5L489.0 207.0L492.6 206.3L496.3 205.6L499.9 204.8L503.6 203.9L507.2 203.0L510.9 202.0L514.5 201.0L518.2 199.9L521.9 198.7L522.4 198.5L522.8 198.4L523.3 198.2L523.7 198.0L524.1 197.9L524.6 197.7L525.0 197.6L525.4 197.4L525.9 197.2L526.3 197.1L526.7 196.9L527.2 196.8L527.6 196.7L528.0 196.5L528.5 196.4L528.9 196.3L529.3 196.2L529.8 196.1L530.2 196.1L530.6 196.0L531.1 196.0L531.5 196.0L531.9 196.1L532.4 196.2L532.8 196.3L533.2 196.5L533.7 196.8L534.1 197.2L534.5 197.8L535.0 198.4L535.4 199.3L535.8 200.4L536.3 201.7L536.7 203.2L537.1 204.9L537.6 206.9L538.0 209.0L538.4 211.1L538.9 213.4L539.3 215.5L539.7 217.6L540.2 219.6L540.6 221.4L541.0 223.0L541.5 224.4L541.9 225.6L542.3 226.6L542.8 227.5L543.2 228.3L543.6 228.9L544.1 229.4L544.5 229.8L544.9 230.1L545.3 230.4L545.8 230.6L546.2 230.8L546.6 230.9L547.1 231.0L547.5 231.1L547.9 231.2L548.4 231.3L548.8 231.3L549.2 231.3L549.7 231.4L550.1 231.4L550.5 231.4L551.0 231.4L551.4 231.4L551.8 231.5L552.3 231.5L683.5 231.5" stroke="#ff1e28" stroke-width="1.2" fill="none" stroke-linejoin="round" stroke-dasharray="5.5,2.8" clip-path="url(#cE)"/>
<path d="M407.0 8.0L407.3 48.4L407.7 75.0L408.0 97.3L408.4 112.9L408.7 123.3L409.1 130.9L409.4 136.0L409.8 140.0L410.1 143.3L410.5 146.1L410.8 148.7L411.1 151.2L411.5 153.8L411.8 156.2L412.2 158.6L412.5 160.8L412.9 162.8L413.2 164.6L413.6 166.2L413.9 167.8L414.3 169.2L414.6 170.6L414.9 171.8L415.3 173.0L415.8 174.9L420.0 186.4L424.2 193.8L428.4 198.2L432.5 200.9L436.7 202.7L440.9 203.9L445.0 204.9L449.2 205.8L453.4 206.5L457.5 207.3L461.7 207.8L465.9 207.8L470.1 207.7L474.2 207.6L478.4 207.4L482.6 207.1L486.7 206.7L490.9 206.0L495.1 205.1L499.2 204.2L503.4 203.2L507.6 202.2L511.8 201.0L515.9 199.8L520.1 198.5L524.3 196.9L528.4 195.2L532.6 193.5L536.8 191.8L537.3 191.5L537.8 191.4L538.2 191.2L538.6 191.0L539.1 190.8L539.5 190.7L539.9 190.5L540.4 190.4L540.8 190.2L541.2 190.0L541.7 189.9L542.1 189.8L542.5 189.6L543.0 189.5L543.4 189.4L543.8 189.3L544.3 189.2L544.7 189.2L545.1 189.1L545.5 189.1L546.0 189.1L546.4 189.2L546.8 189.3L547.3 189.5L547.7 189.7L548.1 190.0L548.6 190.5L549.0 191.0L549.4 191.7L549.9 192.6L550.3 193.7L550.7 195.0L551.2 196.5L551.6 198.3L552.0 200.3L552.5 202.6L552.9 205.0L553.3 207.6L553.8 210.2L554.2 212.7L554.6 215.2L555.1 217.4L555.5 219.5L555.9 221.4L556.4 223.1L556.8 224.5L557.2 225.7L557.7 226.8L558.1 227.6L558.5 228.4L559.0 229.0L559.4 229.4L559.8 229.8L560.3 230.2L560.7 230.4L561.1 230.6L561.6 230.8L562.0 230.9L562.4 231.1L562.9 231.1L563.3 231.2L563.7 231.3L564.2 231.3L564.6 231.4L565.0 231.4L565.5 231.4L565.9 231.4L566.3 231.4L566.8 231.5L567.2 231.5L683.5 231.5" stroke="#1e32ff" stroke-width="1.2" fill="none" stroke-linejoin="round" clip-path="url(#cE)"/>
<path d="M407.0 14.7L407.3 53.9L407.7 79.7L408.0 101.3L408.4 116.4L408.7 126.6L409.1 133.9L409.4 138.8L409.8 142.7L410.1 145.9L410.5 148.6L410.8 151.1L411.1 153.6L411.5 156.1L411.8 158.5L412.2 160.7L412.5 162.9L412.9 164.8L413.2 166.6L413.6 168.2L413.9 169.7L414.3 171.1L414.6 172.4L414.9 173.6L415.3 174.8L415.8 176.6L420.0 187.7L424.2 194.9L428.4 199.1L432.5 201.8L436.7 203.6L440.9 204.7L445.0 205.7L449.2 206.5L453.4 207.2L457.5 208.0L461.7 208.4L465.9 208.4L470.1 208.4L474.2 208.2L478.4 208.0L482.6 207.7L486.7 207.3L490.9 206.7L495.1 205.8L499.2 204.9L503.4 203.9L507.6 202.9L511.8 201.8L515.9 200.6L520.1 199.3L524.3 197.8L528.4 196.1L532.6 194.4L536.8 192.7L537.3 192.5L537.8 192.3L538.2 192.1L538.6 192.0L539.1 191.8L539.5 191.6L539.9 191.5L540.4 191.3L540.8 191.1L541.2 191.0L541.7 190.9L542.1 190.7L542.5 190.6L543.0 190.5L543.4 190.3L543.8 190.2L544.3 190.2L544.7 190.1L545.1 190.0L545.5 190.0L546.0 190.0L546.4 190.0L546.8 190.1L547.3 190.2L547.7 190.4L548.1 190.7L548.6 191.0L549.0 191.5L549.4 192.1L549.9 192.9L550.3 193.9L550.7 195.1L551.2 196.6L551.6 198.4L552.0 200.4L552.5 202.6L552.9 205.1L553.3 207.6L553.8 210.2L554.2 212.7L554.6 215.2L555.1 217.5L555.5 219.5L555.9 221.4L556.4 223.1L556.8 224.5L557.2 225.7L557.7 226.8L558.1 227.6L558.5 228.4L559.0 229.0L559.4 229.4L559.8 229.8L560.3 230.2L560.7 230.4L561.1 230.6L561.6 230.8L562.0 230.9L562.4 231.1L562.9 231.1L563.3 231.2L563.7 231.3L564.2 231.3L564.6 231.4L565.0 231.4L565.5 231.4L565.9 231.4L566.3 231.4L566.8 231.5L567.2 231.5L683.5 231.5" stroke="#ff1e28" stroke-width="1.2" fill="none" stroke-linejoin="round" stroke-dasharray="5.5,2.8" clip-path="url(#cE)"/>
<path d="M407.0 8.0L407.3 48.4L407.7 75.0L408.0 97.3L408.4 112.9L408.7 123.3L409.1 130.9L409.4 136.0L409.8 140.0L410.1 143.3L410.5 146.1L410.8 148.7L411.1 151.2L411.5 153.8L411.8 156.2L412.2 158.6L412.5 160.8L412.9 162.8L413.2 164.6L413.6 166.2L413.9 167.8L414.3 169.2L414.6 170.6L414.9 171.8L415.3 173.0L415.8 174.9L420.5 187.6L425.2 195.0L429.9 199.3L434.5 201.9L439.2 203.5L443.9 204.7L448.6 205.7L453.2 206.5L457.9 207.4L462.6 207.8L467.3 207.8L471.9 207.7L476.6 207.5L481.3 207.2L486.0 206.7L490.6 206.1L495.3 205.1L500.0 204.1L504.6 202.9L509.3 201.7L514.0 200.4L518.7 199.0L523.3 197.3L528.0 195.4L532.7 193.4L537.4 191.5L542.0 189.4L546.7 187.3L551.4 185.0L551.9 184.8L552.4 184.6L552.8 184.4L553.2 184.2L553.7 184.0L554.1 183.8L554.5 183.6L555.0 183.4L555.4 183.3L555.8 183.1L556.3 182.9L556.7 182.8L557.1 182.7L557.6 182.5L558.0 182.4L558.4 182.3L558.9 182.3L559.3 182.2L559.7 182.2L560.2 182.2L560.6 182.3L561.0 182.4L561.5 182.5L561.9 182.8L562.3 183.1L562.8 183.5L563.2 184.0L563.6 184.7L564.1 185.5L564.5 186.5L564.9 187.7L565.3 189.2L565.8 191.0L566.2 193.1L566.6 195.4L567.1 198.0L567.5 200.9L567.9 203.8L568.4 206.8L568.8 209.8L569.2 212.6L569.7 215.3L570.1 217.7L570.5 219.8L571.0 221.8L571.4 223.4L571.8 224.8L572.3 226.0L572.7 227.0L573.1 227.9L573.6 228.5L574.0 229.1L574.4 229.6L574.9 229.9L575.3 230.2L575.7 230.5L576.2 230.7L576.6 230.8L577.0 231.0L577.5 231.1L577.9 231.2L578.3 231.2L578.8 231.3L579.2 231.3L579.6 231.4L580.1 231.4L580.5 231.4L580.9 231.4L581.4 231.4L581.8 231.5L683.5 231.5" stroke="#1e32ff" stroke-width="1.2" fill="none" stroke-linejoin="round" clip-path="url(#cE)"/>
<path d="M407.0 14.7L407.3 53.9L407.7 79.7L408.0 101.3L408.4 116.4L408.7 126.6L409.1 133.9L409.4 138.8L409.8 142.7L410.1 145.9L410.5 148.6L410.8 151.1L411.1 153.6L411.5 156.1L411.8 158.5L412.2 160.7L412.5 162.9L412.9 164.8L413.2 166.6L413.6 168.2L413.9 169.7L414.3 171.1L414.6 172.4L414.9 173.6L415.3 174.8L415.8 176.6L420.5 188.9L425.2 196.1L429.9 200.2L434.5 202.8L439.2 204.3L443.9 205.4L448.6 206.4L453.2 207.2L457.9 208.0L462.6 208.4L467.3 208.4L471.9 208.3L476.6 208.1L481.3 207.8L486.0 207.4L490.6 206.7L495.3 205.8L500.0 204.8L504.6 203.6L509.3 202.4L514.0 201.2L518.7 199.8L523.3 198.1L528.0 196.2L532.7 194.3L537.4 192.4L542.0 190.4L546.7 188.3L551.4 186.1L551.9 185.8L552.4 185.6L552.8 185.4L553.2 185.3L553.7 185.1L554.1 184.9L554.5 184.7L555.0 184.5L555.4 184.3L555.8 184.2L556.3 184.0L556.7 183.9L557.1 183.7L557.6 183.6L558.0 183.5L558.4 183.4L558.9 183.3L559.3 183.3L559.7 183.2L560.2 183.2L560.6 183.3L561.0 183.3L561.5 183.4L561.9 183.6L562.3 183.8L562.8 184.2L563.2 184.6L563.6 185.2L564.1 185.9L564.5 186.8L564.9 188.0L565.3 189.4L565.8 191.1L566.2 193.2L566.6 195.5L567.1 198.1L567.5 200.9L567.9 203.9L568.4 206.9L568.8 209.8L569.2 212.6L569.7 215.3L570.1 217.7L570.5 219.8L571.0 221.8L571.4 223.4L571.8 224.8L572.3 226.0L572.7 227.0L573.1 227.9L573.6 228.5L574.0 229.1L574.4 229.6L574.9 229.9L575.3 230.2L575.7 230.5L576.2 230.7L576.6 230.8L577.0 231.0L577.5 231.1L577.9 231.2L578.3 231.2L578.8 231.3L579.2 231.3L579.6 231.4L580.1 231.4L580.5 231.4L580.9 231.4L581.4 231.4L581.8 231.5L683.5 231.5" stroke="#ff1e28" stroke-width="1.2" fill="none" stroke-linejoin="round" stroke-dasharray="5.5,2.8" clip-path="url(#cE)"/>
<path d="M407.0 8.0L407.3 48.4L407.7 75.0L408.0 97.3L408.4 112.9L408.7 123.3L409.1 130.9L409.4 136.0L409.8 140.0L410.1 143.3L410.5 146.1L410.8 148.7L411.1 151.2L411.5 153.8L411.8 156.2L412.2 158.6L412.5 160.8L412.9 162.8L413.2 164.6L413.6 166.2L413.9 167.8L414.3 169.2L414.6 170.6L414.9 171.8L415.3 173.0L415.8 174.9L421.1 188.7L426.3 196.3L431.5 200.3L436.7 202.7L441.9 204.2L447.1 205.4L452.3 206.3L457.5 207.3L462.7 207.8L467.9 207.8L473.1 207.6L478.4 207.4L483.6 207.0L488.8 206.4L494.0 205.4L499.2 204.2L504.4 203.0L509.6 201.6L514.8 200.2L520.0 198.5L525.2 196.5L530.4 194.4L535.7 192.2L540.9 189.9L546.1 187.6L551.3 185.0L556.5 182.4L561.7 179.7L566.9 177.2L567.5 176.9L567.9 176.8L568.3 176.6L568.8 176.4L569.2 176.2L569.6 176.0L570.1 175.8L570.5 175.7L570.9 175.5L571.4 175.3L571.8 175.2L572.2 175.1L572.7 174.9L573.1 174.8L573.5 174.7L574.0 174.7L574.4 174.6L574.8 174.6L575.3 174.6L575.7 174.7L576.1 174.7L576.6 174.9L577.0 175.1L577.4 175.4L577.9 175.7L578.3 176.2L578.7 176.8L579.1 177.5L579.6 178.5L580.0 179.6L580.4 181.0L580.9 182.7L581.3 184.7L581.7 187.1L582.2 189.8L582.6 192.8L583.0 196.1L583.5 199.5L583.9 203.0L584.3 206.4L584.8 209.6L585.2 212.7L585.6 215.5L586.1 218.0L586.5 220.2L586.9 222.1L587.4 223.8L587.8 225.2L588.2 226.3L588.7 227.3L589.1 228.1L589.5 228.7L590.0 229.3L590.4 229.7L590.8 230.1L591.3 230.3L591.7 230.6L592.1 230.7L592.6 230.9L593.0 231.0L593.4 231.1L593.9 231.2L594.3 231.3L594.7 231.3L595.2 231.3L595.6 231.4L596.0 231.4L596.5 231.4L596.9 231.4L597.3 231.4L683.5 231.5" stroke="#1e32ff" stroke-width="1.2" fill="none" stroke-linejoin="round" clip-path="url(#cE)"/>
<path d="M407.0 14.7L407.3 53.9L407.7 79.7L408.0 101.3L408.4 116.4L408.7 126.6L409.1 133.9L409.4 138.8L409.8 142.7L410.1 145.9L410.5 148.6L410.8 151.1L411.1 153.6L411.5 156.1L411.8 158.5L412.2 160.7L412.5 162.9L412.9 164.8L413.2 166.6L413.6 168.2L413.9 169.7L414.3 171.1L414.6 172.4L414.9 173.6L415.3 174.8L415.8 176.6L421.1 190.0L426.3 197.3L431.5 201.2L436.7 203.6L441.9 205.0L447.1 206.1L452.3 207.0L457.5 208.0L462.7 208.4L467.9 208.4L473.1 208.3L478.4 208.0L483.6 207.6L488.8 207.0L494.0 206.1L499.2 204.9L504.4 203.7L509.6 202.3L514.8 200.9L520.0 199.3L525.2 197.4L530.4 195.2L535.7 193.1L540.9 190.9L546.1 188.6L551.3 186.1L556.5 183.5L561.7 180.9L566.9 178.4L567.5 178.1L567.9 177.9L568.3 177.8L568.8 177.6L569.2 177.4L569.6 177.2L570.1 177.0L570.5 176.9L570.9 176.7L571.4 176.5L571.8 176.4L572.2 176.3L572.7 176.1L573.1 176.0L573.5 175.9L574.0 175.9L574.4 175.8L574.8 175.8L575.3 175.8L575.7 175.8L576.1 175.8L576.6 175.9L577.0 176.1L577.4 176.3L577.9 176.6L578.3 176.9L578.7 177.4L579.1 178.1L579.6 178.9L580.0 180.0L580.4 181.3L580.9 182.9L581.3 184.9L581.7 187.2L582.2 189.9L582.6 192.9L583.0 196.1L583.5 199.5L583.9 203.0L584.3 206.4L584.8 209.6L585.2 212.7L585.6 215.5L586.1 218.0L586.5 220.2L586.9 222.1L587.4 223.8L587.8 225.2L588.2 226.3L588.7 227.3L589.1 228.1L589.5 228.7L590.0 229.3L590.4 229.7L590.8 230.1L591.3 230.3L591.7 230.6L592.1 230.7L592.6 230.9L593.0 231.0L593.4 231.1L593.9 231.2L594.3 231.3L594.7 231.3L595.2 231.3L595.6 231.4L596.0 231.4L596.5 231.4L596.9 231.4L597.3 231.4L683.5 231.5" stroke="#ff1e28" stroke-width="1.2" fill="none" stroke-linejoin="round" stroke-dasharray="5.5,2.8" clip-path="url(#cE)"/>
<path d="M407.0 8.0L407.3 48.4L407.7 75.0L408.0 97.3L408.4 112.9L408.7 123.3L409.1 130.9L409.4 136.0L409.8 140.0L410.1 143.3L410.5 146.1L410.8 148.7L411.1 151.2L411.5 153.8L411.8 156.2L412.2 158.6L412.5 160.8L412.9 162.8L413.2 164.6L413.6 166.2L413.9 167.8L414.3 169.2L414.6 170.6L414.9 171.8L415.3 173.0L415.8 174.9L421.6 189.8L427.3 197.3L433.1 201.2L438.8 203.4L444.6 204.8L450.3 206.0L456.0 207.0L461.8 207.8L467.5 207.8L473.3 207.6L479.0 207.4L484.7 206.9L490.5 206.1L496.2 204.9L502.0 203.6L507.7 202.1L513.4 200.5L519.2 198.8L524.9 196.7L530.7 194.3L536.4 191.9L542.2 189.4L547.9 186.7L553.6 183.8L559.4 180.9L565.1 178.0L570.9 175.0L576.6 171.9L582.3 168.8L582.9 168.5L583.3 168.3L583.8 168.1L584.2 167.9L584.6 167.7L585.1 167.5L585.5 167.3L585.9 167.1L586.4 166.9L586.8 166.8L587.2 166.6L587.7 166.5L588.1 166.4L588.5 166.3L589.0 166.2L589.4 166.2L589.8 166.1L590.3 166.1L590.7 166.2L591.1 166.3L591.5 166.4L592.0 166.6L592.4 166.8L592.8 167.2L593.3 167.6L593.7 168.2L594.1 168.8L594.6 169.7L595.0 170.7L595.4 172.0L595.9 173.6L596.3 175.6L596.7 177.9L597.2 180.6L597.6 183.7L598.0 187.1L598.5 190.9L598.9 194.9L599.3 198.8L599.8 202.8L600.2 206.5L600.6 210.0L601.1 213.2L601.5 216.1L601.9 218.7L602.4 220.8L602.8 222.7L603.2 224.3L603.7 225.6L604.1 226.7L604.5 227.6L605.0 228.4L605.4 229.0L605.8 229.5L606.3 229.9L606.7 230.2L607.1 230.4L607.6 230.7L608.0 230.8L608.4 231.0L608.9 231.1L609.3 231.2L609.7 231.2L610.2 231.3L610.6 231.3L611.0 231.4L611.5 231.4L611.9 231.4L612.3 231.4L612.8 231.4L683.5 231.5" stroke="#1e32ff" stroke-width="1.2" fill="none" stroke-linejoin="round" clip-path="url(#cE)"/>
<path d="M407.0 14.7L407.3 53.9L407.7 79.7L408.0 101.3L408.4 116.4L408.7 126.6L409.1 133.9L409.4 138.8L409.8 142.7L410.1 145.9L410.5 148.6L410.8 151.1L411.1 153.6L411.5 156.1L411.8 158.5L412.2 160.7L412.5 162.9L412.9 164.8L413.2 166.6L413.6 168.2L413.9 169.7L414.3 171.1L414.6 172.4L414.9 173.6L415.3 174.8L415.8 176.6L421.6 191.0L427.3 198.3L433.1 202.1L438.8 204.2L444.6 205.6L450.3 206.7L456.0 207.7L461.8 208.4L467.5 208.4L473.3 208.3L479.0 208.0L484.7 207.5L490.5 206.7L496.2 205.6L502.0 204.3L507.7 202.9L513.4 201.3L519.2 199.6L524.9 197.5L530.7 195.1L536.4 192.8L542.2 190.3L547.9 187.7L553.6 184.9L559.4 182.0L565.1 179.1L570.9 176.2L576.6 173.2L582.3 170.1L582.9 169.8L583.3 169.6L583.8 169.4L584.2 169.2L584.6 169.0L585.1 168.8L585.5 168.6L585.9 168.4L586.4 168.3L586.8 168.1L587.2 168.0L587.7 167.8L588.1 167.7L588.5 167.6L589.0 167.5L589.4 167.5L589.8 167.4L590.3 167.4L590.7 167.5L591.1 167.5L591.5 167.6L592.0 167.7L592.4 167.9L592.8 168.2L593.3 168.5L593.7 169.0L594.1 169.6L594.6 170.3L595.0 171.3L595.4 172.5L595.9 174.0L596.3 175.8L596.7 178.0L597.2 180.7L597.6 183.8L598.0 187.2L598.5 191.0L598.9 194.9L599.3 198.9L599.8 202.8L600.2 206.5L600.6 210.0L601.1 213.2L601.5 216.1L601.9 218.7L602.4 220.8L602.8 222.7L603.2 224.3L603.7 225.6L604.1 226.7L604.5 227.6L605.0 228.4L605.4 229.0L605.8 229.5L606.3 229.9L606.7 230.2L607.1 230.4L607.6 230.7L608.0 230.8L608.4 231.0L608.9 231.1L609.3 231.2L609.7 231.2L610.2 231.3L610.6 231.3L611.0 231.4L611.5 231.4L611.9 231.4L612.3 231.4L612.8 231.4L683.5 231.5" stroke="#ff1e28" stroke-width="1.2" fill="none" stroke-linejoin="round" stroke-dasharray="5.5,2.8" clip-path="url(#cE)"/>
<path d="M407.0 8.0L407.3 48.4L407.7 75.0L408.0 97.3L408.4 112.9L408.7 123.3L409.1 130.9L409.4 136.0L409.8 140.0L410.1 143.3L410.5 146.1L410.8 148.7L411.1 151.2L411.5 153.8L411.8 156.2L412.2 158.6L412.5 160.8L412.9 162.8L413.2 164.6L413.6 166.2L413.9 167.8L414.3 169.2L414.6 170.6L414.9 171.8L415.3 173.0L415.8 174.9L422.1 190.7L428.4 198.2L434.7 202.0L441.0 204.0L447.2 205.4L453.5 206.6L459.8 207.6L466.1 207.8L472.3 207.7L478.6 207.4L484.9 206.9L491.2 206.0L497.4 204.6L503.7 203.2L510.0 201.5L516.3 199.7L522.6 197.6L528.8 195.0L535.1 192.4L541.4 189.7L547.7 186.8L553.9 183.7L560.2 180.5L566.5 177.3L572.8 174.0L579.0 170.5L585.3 166.8L591.6 163.1L597.9 159.6L598.4 159.3L598.9 159.1L599.3 158.9L599.7 158.7L600.2 158.6L600.6 158.4L601.0 158.2L601.5 158.1L601.9 157.9L602.3 157.8L602.8 157.7L603.2 157.6L603.6 157.6L604.1 157.5L604.5 157.5L604.9 157.5L605.3 157.6L605.8 157.6L606.2 157.8L606.6 157.9L607.1 158.1L607.5 158.4L607.9 158.8L608.4 159.2L608.8 159.8L609.2 160.4L609.7 161.2L610.1 162.2L610.5 163.5L611.0 164.9L611.4 166.7L611.8 168.9L612.3 171.5L612.7 174.5L613.1 178.0L613.6 181.9L614.0 186.2L614.4 190.6L614.9 195.1L615.3 199.5L615.7 203.7L616.2 207.7L616.6 211.3L617.0 214.5L617.5 217.3L617.9 219.7L618.3 221.8L618.8 223.6L619.2 225.0L619.6 226.3L620.1 227.3L620.5 228.1L620.9 228.7L621.4 229.3L621.8 229.7L622.2 230.1L622.7 230.4L623.1 230.6L623.5 230.8L624.0 230.9L624.4 231.0L624.8 231.1L625.3 231.2L625.7 231.3L626.1 231.3L626.6 231.3L627.0 231.4L627.4 231.4L627.9 231.4L628.3 231.4L683.5 231.5" stroke="#1e32ff" stroke-width="1.2" fill="none" stroke-linejoin="round" clip-path="url(#cE)"/>
<path d="M407.0 14.7L407.3 53.9L407.7 79.7L408.0 101.3L408.4 116.4L408.7 126.6L409.1 133.9L409.4 138.8L409.8 142.7L410.1 145.9L410.5 148.6L410.8 151.1L411.1 153.6L411.5 156.1L411.8 158.5L412.2 160.7L412.5 162.9L412.9 164.8L413.2 166.6L413.6 168.2L413.9 169.7L414.3 171.1L414.6 172.4L414.9 173.6L415.3 174.8L415.8 176.6L422.1 191.9L428.4 199.1L434.7 202.8L441.0 204.8L447.2 206.1L453.5 207.3L459.8 208.3L466.1 208.4L472.3 208.3L478.6 208.0L484.9 207.5L491.2 206.6L497.4 205.3L503.7 203.9L510.0 202.2L516.3 200.5L522.6 198.4L528.8 195.9L535.1 193.3L541.4 190.7L547.7 187.8L553.9 184.7L560.2 181.6L566.5 178.5L572.8 175.2L579.0 171.8L585.3 168.2L591.6 164.6L597.9 161.1L598.4 160.8L598.9 160.6L599.3 160.4L599.7 160.2L600.2 160.0L600.6 159.9L601.0 159.7L601.5 159.5L601.9 159.4L602.3 159.3L602.8 159.2L603.2 159.1L603.6 159.0L604.1 159.0L604.5 158.9L604.9 158.9L605.3 159.0L605.8 159.0L606.2 159.1L606.6 159.3L607.1 159.4L607.5 159.7L607.9 160.0L608.4 160.3L608.8 160.8L609.2 161.3L609.7 162.0L610.1 162.9L610.5 164.0L611.0 165.4L611.4 167.1L611.8 169.2L612.3 171.7L612.7 174.7L613.1 178.1L613.6 182.0L614.0 186.2L614.4 190.7L614.9 195.2L615.3 199.5L615.7 203.8L616.2 207.7L616.6 211.3L617.0 214.5L617.5 217.3L617.9 219.7L618.3 221.8L618.8 223.6L619.2 225.0L619.6 226.3L620.1 227.3L620.5 228.1L620.9 228.7L621.4 229.3L621.8 229.7L622.2 230.1L622.7 230.4L623.1 230.6L623.5 230.8L624.0 230.9L624.4 231.0L624.8 231.1L625.3 231.2L625.7 231.3L626.1 231.3L626.6 231.3L627.0 231.4L627.4 231.4L627.9 231.4L628.3 231.4L683.5 231.5" stroke="#ff1e28" stroke-width="1.2" fill="none" stroke-linejoin="round" stroke-dasharray="5.5,2.8" clip-path="url(#cE)"/>
<path d="M407.0 8.0L407.3 48.4L407.7 75.0L408.0 97.3L408.4 112.9L408.7 123.3L409.1 130.9L409.4 136.0L409.8 140.0L410.1 143.3L410.5 146.1L410.8 148.7L411.1 151.2L411.5 153.8L411.8 156.2L412.2 158.6L412.5 160.8L412.9 162.8L413.2 164.6L413.6 166.2L413.9 167.8L414.3 169.2L414.6 170.6L414.9 171.8L415.3 173.0L415.8 174.9L422.6 191.5L429.4 199.0L436.2 202.6L443.0 204.5L449.8 205.9L456.6 207.1L463.4 207.8L470.2 207.7L477.0 207.5L483.8 207.0L490.6 206.1L497.4 204.6L504.2 203.0L511.0 201.2L517.8 199.2L524.6 196.8L531.4 194.0L538.2 191.1L545.0 188.1L551.8 184.7L558.6 181.3L565.4 177.8L572.2 174.3L579.0 170.5L585.8 166.5L592.6 162.5L599.4 158.4L606.2 154.6L613.0 151.5L613.5 151.3L614.0 151.1L614.4 151.0L614.8 150.8L615.3 150.7L615.7 150.6L616.1 150.5L616.6 150.3L617.0 150.3L617.4 150.2L617.9 150.1L618.3 150.1L618.7 150.0L619.2 150.0L619.6 150.1L620.0 150.1L620.5 150.2L620.9 150.3L621.3 150.5L621.8 150.7L622.2 150.9L622.6 151.3L623.1 151.7L623.5 152.1L623.9 152.7L624.4 153.5L624.8 154.3L625.2 155.4L625.7 156.7L626.1 158.3L626.5 160.2L627.0 162.6L627.4 165.4L627.8 168.7L628.3 172.6L628.7 176.9L629.1 181.6L629.6 186.5L630.0 191.5L630.4 196.4L630.9 201.0L631.3 205.4L631.7 209.4L632.2 212.9L632.6 216.0L633.0 218.7L633.5 221.0L633.9 222.9L634.3 224.5L634.8 225.8L635.2 226.9L635.6 227.8L636.0 228.5L636.5 229.1L636.9 229.6L637.3 230.0L637.8 230.3L638.2 230.5L638.6 230.7L639.1 230.9L639.5 231.0L639.9 231.1L640.4 231.2L640.8 231.2L641.2 231.3L641.7 231.3L642.1 231.4L642.5 231.4L643.0 231.4L643.4 231.4L683.5 231.5" stroke="#1e32ff" stroke-width="1.2" fill="none" stroke-linejoin="round" clip-path="url(#cE)"/>
<path d="M407.0 14.7L407.3 53.9L407.7 79.7L408.0 101.3L408.4 116.4L408.7 126.6L409.1 133.9L409.4 138.8L409.8 142.7L410.1 145.9L410.5 148.6L410.8 151.1L411.1 153.6L411.5 156.1L411.8 158.5L412.2 160.7L412.5 162.9L412.9 164.8L413.2 166.6L413.6 168.2L413.9 169.7L414.3 171.1L414.6 172.4L414.9 173.6L415.3 174.8L415.8 176.6L422.6 192.7L429.4 199.9L436.2 203.4L443.0 205.2L449.8 206.6L456.6 207.8L463.4 208.5L470.2 208.4L477.0 208.1L483.8 207.6L490.6 206.7L497.4 205.3L504.2 203.7L511.0 202.0L517.8 200.0L524.6 197.6L531.4 194.8L538.2 192.0L545.0 189.0L551.8 185.8L558.6 182.4L565.4 179.0L572.2 175.5L579.0 171.8L585.8 167.9L592.6 163.9L599.4 159.9L606.2 156.2L613.0 153.1L613.5 152.9L614.0 152.7L614.4 152.6L614.8 152.4L615.3 152.3L615.7 152.1L616.1 152.0L616.6 151.9L617.0 151.8L617.4 151.7L617.9 151.7L618.3 151.6L618.7 151.6L619.2 151.6L619.6 151.6L620.0 151.6L620.5 151.7L620.9 151.8L621.3 151.9L621.8 152.1L622.2 152.3L622.6 152.6L623.1 152.9L623.5 153.3L623.9 153.8L624.4 154.4L624.8 155.2L625.2 156.1L625.7 157.3L626.1 158.8L626.5 160.6L627.0 162.9L627.4 165.6L627.8 168.9L628.3 172.7L628.7 177.0L629.1 181.7L629.6 186.6L630.0 191.5L630.4 196.4L630.9 201.0L631.3 205.4L631.7 209.4L632.2 212.9L632.6 216.0L633.0 218.7L633.5 221.0L633.9 222.9L634.3 224.5L634.8 225.8L635.2 226.9L635.6 227.8L636.0 228.5L636.5 229.1L636.9 229.6L637.3 230.0L637.8 230.3L638.2 230.5L638.6 230.7L639.1 230.9L639.5 231.0L639.9 231.1L640.4 231.2L640.8 231.2L641.2 231.3L641.7 231.3L642.1 231.4L642.5 231.4L643.0 231.4L643.4 231.4L683.5 231.5" stroke="#ff1e28" stroke-width="1.2" fill="none" stroke-linejoin="round" stroke-dasharray="5.5,2.8" clip-path="url(#cE)"/>
<path d="M407.0 8.0L407.3 48.4L407.7 75.0L408.0 97.3L408.4 112.9L408.7 123.3L409.1 130.9L409.4 136.0L409.8 140.0L410.1 143.3L410.5 146.1L410.8 148.7L411.1 151.2L411.5 153.8L411.8 156.2L412.2 158.6L412.5 160.8L412.9 162.8L413.2 164.6L413.6 166.2L413.9 167.8L414.3 169.2L414.6 170.6L414.9 171.8L415.3 173.0L415.8 174.9L423.2 192.3L430.5 199.7L437.9 203.1L445.2 205.0L452.6 206.4L459.9 207.6L467.3 207.8L474.6 207.6L481.9 207.1L489.3 206.3L496.6 204.8L504.0 203.1L511.3 201.1L518.7 199.0L526.0 196.2L533.3 193.1L540.7 190.0L548.0 186.6L555.4 182.9L562.7 179.2L570.1 175.4L577.4 171.4L584.7 167.1L592.1 162.8L599.4 158.4L606.8 154.3L614.1 150.5L621.5 146.6L628.8 143.2L629.4 143.0L629.8 142.8L630.2 142.7L630.7 142.5L631.1 142.4L631.5 142.3L632.0 142.2L632.4 142.1L632.8 142.1L633.3 142.1L633.7 142.1L634.1 142.1L634.6 142.1L635.0 142.2L635.4 142.3L635.9 142.4L636.3 142.6L636.7 142.8L637.2 143.1L637.6 143.4L638.0 143.7L638.4 144.1L638.9 144.7L639.3 145.3L639.7 146.0L640.2 146.8L640.6 147.8L641.0 149.0L641.5 150.5L641.9 152.2L642.3 154.4L642.8 156.9L643.2 160.0L643.6 163.7L644.1 167.9L644.5 172.6L644.9 177.7L645.4 183.1L645.8 188.6L646.2 193.9L646.7 198.9L647.1 203.7L647.5 207.9L648.0 211.8L648.4 215.1L648.8 218.0L649.3 220.4L649.7 222.5L650.1 224.2L650.6 225.6L651.0 226.7L651.4 227.7L651.9 228.4L652.3 229.0L652.7 229.5L653.2 229.9L653.6 230.2L654.0 230.5L654.5 230.7L654.9 230.9L655.3 231.0L655.8 231.1L656.2 231.2L656.6 231.2L657.1 231.3L657.5 231.3L657.9 231.4L658.4 231.4L658.8 231.4L659.2 231.4L683.5 231.5" stroke="#1e32ff" stroke-width="1.2" fill="none" stroke-linejoin="round" clip-path="url(#cE)"/>
<path d="M407.0 14.7L407.3 53.9L407.7 79.7L408.0 101.3L408.4 116.4L408.7 126.6L409.1 133.9L409.4 138.8L409.8 142.7L410.1 145.9L410.5 148.6L410.8 151.1L411.1 153.6L411.5 156.1L411.8 158.5L412.2 160.7L412.5 162.9L412.9 164.8L413.2 166.6L413.6 168.2L413.9 169.7L414.3 171.1L414.6 172.4L414.9 173.6L415.3 174.8L415.8 176.6L423.2 193.5L430.5 200.6L437.9 203.9L445.2 205.7L452.6 207.1L459.9 208.3L467.3 208.4L474.6 208.2L481.9 207.8L489.3 206.9L496.6 205.5L504.0 203.8L511.3 201.9L518.7 199.8L526.0 197.1L533.3 194.1L540.7 191.0L548.0 187.6L555.4 184.0L562.7 180.3L570.1 176.6L577.4 172.7L584.7 168.5L592.1 164.2L599.4 159.8L606.8 155.8L614.1 152.1L621.5 148.2L628.8 144.8L629.4 144.6L629.8 144.5L630.2 144.3L630.7 144.2L631.1 144.1L631.5 144.0L632.0 143.9L632.4 143.8L632.8 143.7L633.3 143.7L633.7 143.7L634.1 143.7L634.6 143.8L635.0 143.8L635.4 143.9L635.9 144.0L636.3 144.2L636.7 144.4L637.2 144.6L637.6 144.8L638.0 145.2L638.4 145.5L638.9 145.9L639.3 146.5L639.7 147.1L640.2 147.8L640.6 148.7L641.0 149.7L641.5 151.1L641.9 152.7L642.3 154.7L642.8 157.2L643.2 160.2L643.6 163.8L644.1 168.0L644.5 172.7L644.9 177.8L645.4 183.2L645.8 188.6L646.2 193.9L646.7 198.9L647.1 203.7L647.5 207.9L648.0 211.8L648.4 215.1L648.8 218.0L649.3 220.4L649.7 222.5L650.1 224.2L650.6 225.6L651.0 226.7L651.4 227.7L651.9 228.4L652.3 229.0L652.7 229.5L653.2 229.9L653.6 230.2L654.0 230.5L654.5 230.7L654.9 230.9L655.3 231.0L655.8 231.1L656.2 231.2L656.6 231.2L657.1 231.3L657.5 231.3L657.9 231.4L658.4 231.4L658.8 231.4L659.2 231.4L683.5 231.5" stroke="#ff1e28" stroke-width="1.2" fill="none" stroke-linejoin="round" stroke-dasharray="5.5,2.8" clip-path="url(#cE)"/>
<path d="M407.00 231.50H683.50" stroke="#ff1e28" stroke-width="1.8"/>
<text x="407.00" y="248.10" text-anchor="middle" style="font-family:&quot;Liberation Sans&quot;, sans-serif;font-size:12.80px;" fill="#000" >0</text>
<text x="462.30" y="248.10" text-anchor="middle" style="font-family:&quot;Liberation Sans&quot;, sans-serif;font-size:12.80px;" fill="#000" >2</text>
<text x="517.60" y="248.10" text-anchor="middle" style="font-family:&quot;Liberation Sans&quot;, sans-serif;font-size:12.80px;" fill="#000" >4</text>
<text x="572.90" y="248.10" text-anchor="middle" style="font-family:&quot;Liberation Sans&quot;, sans-serif;font-size:12.80px;" fill="#000" >6</text>
<text x="628.20" y="248.10" text-anchor="middle" style="font-family:&quot;Liberation Sans&quot;, sans-serif;font-size:12.80px;" fill="#000" >8</text>
<text x="683.50" y="248.10" text-anchor="middle" style="font-family:&quot;Liberation Sans&quot;, sans-serif;font-size:12.80px;" fill="#000" >10</text>
<text x="402.60" y="236.20" text-anchor="end" style="font-family:&quot;Liberation Sans&quot;, sans-serif;font-size:12.80px;" fill="#000" >0</text>
<text x="402.60" y="208.26" text-anchor="end" style="font-family:&quot;Liberation Sans&quot;, sans-serif;font-size:12.80px;" fill="#000" >0.05</text>
<text x="402.60" y="180.32" text-anchor="end" style="font-family:&quot;Liberation Sans&quot;, sans-serif;font-size:12.80px;" fill="#000" >0.1</text>
<text x="402.60" y="152.39" text-anchor="end" style="font-family:&quot;Liberation Sans&quot;, sans-serif;font-size:12.80px;" fill="#000" >0.15</text>
<text x="402.60" y="124.45" text-anchor="end" style="font-family:&quot;Liberation Sans&quot;, sans-serif;font-size:12.80px;" fill="#000" >0.2</text>
<text x="402.60" y="96.51" text-anchor="end" style="font-family:&quot;Liberation Sans&quot;, sans-serif;font-size:12.80px;" fill="#000" >0.25</text>
<text x="402.60" y="68.58" text-anchor="end" style="font-family:&quot;Liberation Sans&quot;, sans-serif;font-size:12.80px;" fill="#000" >0.3</text>
<text x="402.60" y="40.64" text-anchor="end" style="font-family:&quot;Liberation Sans&quot;, sans-serif;font-size:12.80px;" fill="#000" >0.35</text>
<text x="402.60" y="12.70" text-anchor="end" style="font-family:&quot;Liberation Sans&quot;, sans-serif;font-size:12.80px;" fill="#000" >0.4</text>
<path d="M435.00 177.30H467.50" stroke="#000" stroke-width="1"/>
<path d="M472.50 177.30L465.00 174.80L465.00 179.80Z" fill="#000"/>
<text x="453.00" y="163.50" text-anchor="middle" style="font-family:&quot;Liberation Serif&quot;, serif;font-size:10.80px;font-style:italic;" fill="#000" >t</text>
<text x="541.00" y="263.60" text-anchor="middle" style="font-family:&quot;Liberation Serif&quot;, serif;font-size:15.00px;font-style:italic;" fill="#000" >x</text>
<text transform="translate(370.20 119.20) rotate(-90)" text-anchor="middle" style="font-family:&quot;Liberation Serif&quot;, serif;font-size:16.50px" fill="#000" textLength="41.5" lengthAdjust="spacingAndGlyphs"><tspan font-style="italic">E</tspan>(<tspan font-style="italic">x</tspan>, <tspan font-style="italic">t</tspan>)</text>
<text x="468" y="298.2" style="font-family:&quot;Liberation Serif&quot;, serif;font-size:19.5px;font-weight:bold" fill="#000" textLength="24.4" lengthAdjust="spacingAndGlyphs">(b)</text>
<text x="500.6" y="298.2" style="font-family:&quot;Liberation Serif&quot;, serif;font-size:16px" fill="#000" textLength="139.7" lengthAdjust="spacingAndGlyphs">Stalk Cell Density</text>
<defs><clipPath id="cE1"><rect x="461.80" y="24.00" width="71.60" height="55.90"/></clipPath></defs>
<rect x="461.80" y="24.00" width="71.60" height="55.90" fill="#fff"/>
<rect x="461.80" y="24.00" width="71.60" height="55.90" fill="none" stroke="#262626" stroke-width="0.9"/>
<path d="M489.50 79.90v-1.80M489.50 24.00v1.80M532.30 79.90v-1.80M532.30 24.00v1.80M461.80 44.00h1.80M533.40 44.00h-1.80M461.80 68.00h1.80M533.40 68.00h-1.80" stroke="#262626" stroke-width="0.9" fill="none"/>
<path d="M455.0 32.0L455.5 32.1L456.2 32.3L457.0 32.6L457.9 32.8L458.8 33.1L459.8 33.4L460.9 33.7L461.9 34.0L462.9 34.3L464.0 34.7L465.2 35.1L466.3 35.5L467.5 35.9L468.8 36.4L470.0 36.8L471.3 37.2L472.6 37.6L474.0 38.0L475.4 38.5L476.8 38.9L478.3 39.3L479.7 39.7L481.2 40.2L482.6 40.6L484.0 41.0L485.5 41.5L487.0 41.9L488.6 42.4L490.0 42.9L491.4 43.3L492.7 43.8L493.9 44.2L494.9 44.6L495.9 45.0L496.7 45.4L497.4 45.8L498.2 46.2L498.9 46.6L499.6 47.1L500.4 47.6L501.2 48.2L502.1 48.8L502.9 49.5L503.7 50.2L504.6 50.9L505.4 51.7L506.2 52.4L507.0 53.2L507.8 54.0L508.5 54.8L509.2 55.6L509.9 56.4L510.6 57.2L511.3 58.1L512.0 58.9L512.7 59.8L513.4 60.7L514.1 61.6L514.8 62.5L515.6 63.5L516.3 64.4L517.0 65.4L517.6 66.4L518.3 67.3L518.9 68.3L519.6 69.2L520.2 70.2L520.8 71.2L521.4 72.2L522.0 73.1L522.5 74.0L523.0 74.8L523.5 75.5L523.9 76.2L524.3 76.8L524.7 77.4L525.0 78.0L525.4 78.6L525.8 79.2L526.2 79.9L526.7 80.7L527.2 81.5L527.7 82.4L528.3 83.3L528.8 84.1L529.3 84.9L529.7 85.5L530.0 86.0" stroke="#1e32ff" stroke-width="1.2" fill="none" stroke-linejoin="round" clip-path="url(#cE1)"/>
<path d="M455.0 34.7L455.5 34.8L456.2 35.0L457.0 35.3L457.9 35.5L458.8 35.8L459.8 36.1L460.9 36.4L461.9 36.7L462.9 37.0L464.0 37.4L465.2 37.7L466.3 38.1L467.5 38.5L468.8 38.9L470.0 39.3L471.3 39.7L472.6 40.1L474.0 40.6L475.4 41.0L476.8 41.5L478.3 41.9L479.7 42.4L481.2 42.8L482.6 43.2L484.0 43.6L485.5 44.0L487.0 44.3L488.6 44.7L490.0 45.0L491.4 45.4L492.7 45.7L493.9 46.1L495.0 46.5L495.9 46.8L496.8 47.2L497.6 47.6L498.3 48.0L499.0 48.3L499.7 48.7L500.4 49.1L501.1 49.5L501.7 49.9L502.3 50.2L502.9 50.6L503.4 51.0L504.0 51.4L504.5 51.8L505.1 52.3L505.7 52.8L506.2 53.4L506.8 53.9L507.4 54.5L508.0 55.1L508.5 55.7L509.0 56.3L509.5 56.8L509.9 57.3L510.3 57.6L510.7 58.0L511.0 58.3L511.4 58.7L511.8 59.1L512.2 59.6L512.7 60.2L513.3 60.9L514.0 61.8L514.7 62.7L515.4 63.6L516.2 64.6L516.9 65.6L517.6 66.6L518.3 67.5L518.9 68.4L519.6 69.4L520.2 70.3L520.8 71.3L521.4 72.2L522.0 73.1L522.5 74.0L523.0 74.8L523.5 75.5L523.9 76.2L524.3 76.8L524.7 77.4L525.0 78.0L525.4 78.6L525.8 79.2L526.2 79.9L526.7 80.7L527.2 81.5L527.7 82.4L528.3 83.3L528.8 84.1L529.3 84.9L529.7 85.5L530.0 86.0" stroke="#ff1e28" stroke-width="1.2" fill="none" stroke-linejoin="round" stroke-dasharray="7,3.4" clip-path="url(#cE1)"/>
<text x="489.00" y="95.00" text-anchor="middle" style="font-family:&quot;Liberation Sans&quot;, sans-serif;font-size:11.60px;" fill="#000" >0.5</text>
<text x="532.30" y="95.00" text-anchor="middle" style="font-family:&quot;Liberation Sans&quot;, sans-serif;font-size:11.60px;" fill="#000" >0.6</text>
<text x="457.30" y="49.00" text-anchor="end" style="font-family:&quot;Liberation Sans&quot;, sans-serif;font-size:11.60px;" fill="#000" >0.08</text>
<text x="457.30" y="72.10" text-anchor="end" style="font-family:&quot;Liberation Sans&quot;, sans-serif;font-size:11.60px;" fill="#000" >0.06</text>
<text x="498.10" y="108.20" text-anchor="middle" style="font-family:&quot;Liberation Serif&quot;, serif;font-size:12.50px;font-style:italic;" fill="#000" >x</text>
<text transform="translate(429.40 52.40) rotate(-90)" text-anchor="middle" style="font-family:&quot;Liberation Serif&quot;, serif;font-size:14.00px" fill="#000" textLength="48.5" lengthAdjust="spacingAndGlyphs"><tspan font-style="italic">E</tspan>(<tspan font-style="italic">x</tspan>, 1.4)</text>
<defs><clipPath id="cE2"><rect x="601.40" y="24.80" width="72.00" height="56.30"/></clipPath></defs>
<rect x="601.40" y="24.80" width="72.00" height="56.30" fill="#fff"/>
<rect x="601.40" y="24.80" width="72.00" height="56.30" fill="none" stroke="#262626" stroke-width="0.9"/>
<path d="M616.40 81.10v-1.80M616.40 24.80v1.80M640.80 81.10v-1.80M640.80 24.80v1.80M664.90 81.10v-1.80M664.90 24.80v1.80M601.40 41.20h1.80M673.40 41.20h-1.80M601.40 75.20h1.80M673.40 75.20h-1.80" stroke="#262626" stroke-width="0.9" fill="none"/>
<path d="M595.0 52.6L595.5 52.4L596.1 52.2L596.9 51.9L597.8 51.5L598.7 51.2L599.7 50.8L600.6 50.5L601.6 50.1L602.5 49.7L603.5 49.4L604.5 49.0L605.5 48.6L606.6 48.2L607.7 47.8L608.8 47.4L609.9 47.0L611.1 46.6L612.3 46.2L613.5 45.8L614.7 45.4L616.0 45.1L617.3 44.7L618.6 44.3L619.8 44.0L621.0 43.7L622.3 43.4L623.5 43.1L624.8 42.8L626.0 42.5L627.2 42.3L628.5 42.1L629.7 41.9L630.9 41.7L632.2 41.6L633.5 41.5L634.8 41.4L636.0 41.3L637.2 41.2L638.4 41.2L639.6 41.2L640.7 41.2L641.8 41.2L642.8 41.2L643.8 41.3L644.8 41.3L645.8 41.5L646.8 41.7L647.8 41.9L648.8 42.2L649.9 42.6L650.9 43.0L652.0 43.5L653.0 44.0L654.1 44.5L655.1 45.1L656.0 45.7L656.9 46.3L657.8 46.9L658.6 47.6L659.4 48.3L660.2 49.0L661.0 49.7L661.8 50.6L662.6 51.4L663.4 52.3L664.3 53.2L665.2 54.2L666.1 55.2L666.9 56.3L667.7 57.4L668.5 58.5L669.2 59.7L669.9 60.9L670.5 62.3L671.0 63.7L671.6 65.1L672.0 66.5L672.5 67.9L673.0 69.2L673.4 70.4L673.8 71.6L674.2 72.7L674.6 73.8L675.0 74.9L675.3 75.8L675.6 76.7L675.8 77.4L676.0 78.0" stroke="#1e32ff" stroke-width="1.2" fill="none" stroke-linejoin="round" clip-path="url(#cE2)"/>
<path d="M595.0 56.9L595.5 56.7L596.1 56.5L596.9 56.2L597.8 55.8L598.7 55.5L599.7 55.1L600.6 54.8L601.6 54.4L602.5 54.1L603.5 53.7L604.5 53.3L605.5 53.0L606.6 52.6L607.7 52.2L608.8 51.8L609.9 51.4L611.1 51.0L612.3 50.5L613.5 50.0L614.7 49.5L616.0 49.1L617.3 48.6L618.6 48.2L619.8 47.8L621.0 47.5L622.3 47.1L623.5 46.8L624.8 46.6L626.0 46.3L627.2 46.1L628.5 45.9L629.7 45.7L630.9 45.6L632.2 45.4L633.5 45.4L634.8 45.3L636.0 45.2L637.2 45.2L638.4 45.2L639.6 45.2L640.7 45.2L641.8 45.2L642.8 45.2L643.8 45.2L644.8 45.3L645.8 45.4L646.8 45.5L647.8 45.7L648.8 46.0L649.9 46.3L650.9 46.6L652.0 47.0L653.0 47.5L654.1 47.9L655.1 48.5L656.0 49.0L656.9 49.6L657.8 50.2L658.6 50.9L659.4 51.6L660.2 52.3L661.0 53.1L661.8 53.9L662.6 54.7L663.4 55.5L664.3 56.4L665.2 57.3L666.1 58.2L666.9 59.1L667.7 60.1L668.5 61.1L669.2 62.1L669.9 63.2L670.5 64.3L671.0 65.5L671.6 66.7L672.0 67.9L672.5 69.0L673.0 70.2L673.4 71.2L673.8 72.2L674.2 73.2L674.6 74.2L675.0 75.2L675.3 76.0L675.6 76.8L675.8 77.5L676.0 78.0" stroke="#ff1e28" stroke-width="1.2" fill="none" stroke-linejoin="round" stroke-dasharray="7,3.4" clip-path="url(#cE2)"/>
<text x="616.40" y="96.20" text-anchor="middle" style="font-family:&quot;Liberation Sans&quot;, sans-serif;font-size:11.60px;" fill="#000" >8</text>
<text x="640.80" y="96.20" text-anchor="middle" style="font-family:&quot;Liberation Sans&quot;, sans-serif;font-size:11.60px;" fill="#000" >8.2</text>
<text x="664.90" y="96.20" text-anchor="middle" style="font-family:&quot;Liberation Sans&quot;, sans-serif;font-size:11.60px;" fill="#000" >8.4</text>
<text x="597.60" y="45.40" text-anchor="end" style="font-family:&quot;Liberation Sans&quot;, sans-serif;font-size:11.60px;" fill="#000" >0.16</text>
<text x="597.60" y="79.90" text-anchor="end" style="font-family:&quot;Liberation Sans&quot;, sans-serif;font-size:11.60px;" fill="#000" >0.14</text>
<text x="637.80" y="109.30" text-anchor="middle" style="font-family:&quot;Liberation Serif&quot;, serif;font-size:12.50px;font-style:italic;" fill="#000" >x</text>
<text transform="translate(568.90 52.60) rotate(-90)" text-anchor="middle" style="font-family:&quot;Liberation Serif&quot;, serif;font-size:14.00px" fill="#000" textLength="53.4" lengthAdjust="spacingAndGlyphs"><tspan font-style="italic">E</tspan>(<tspan font-style="italic">x</tspan>, 19.4)</text>
</svg>
</body></html>
